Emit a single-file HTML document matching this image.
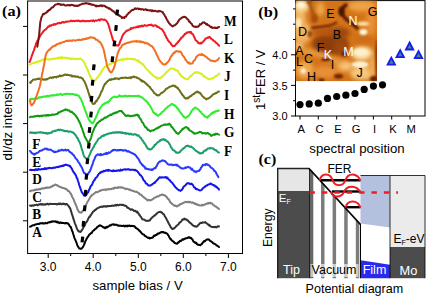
<!DOCTYPE html>
<html><head><meta charset="utf-8"><title>Figure</title>
<style>
html,body{margin:0;padding:0;background:#fff;}
body{width:427px;height:296px;overflow:hidden;font-family:"Liberation Sans",sans-serif;}
svg{display:block;}
svg text{font-family:"Liberation Sans",sans-serif;}
svg .sf, svg .sf text{font-family:"Liberation Serif",serif;font-weight:bold;}
</style></head>
<body>
<svg width="427" height="296" viewBox="0 0 427 296">
<rect width="427" height="296" fill="#fff"/>
<rect x="27.6" y="1.0" width="214.9" height="252.5" fill="#fff" stroke="#000" stroke-width="1"/>
<line x1="23" x2="27.6" y1="26.4" y2="26.4" stroke="#000" stroke-width="1"/>
<line x1="23" x2="27.6" y1="75" y2="75" stroke="#000" stroke-width="1"/>
<line x1="23" x2="27.6" y1="123.6" y2="123.6" stroke="#000" stroke-width="1"/>
<line x1="23" x2="27.6" y1="172.2" y2="172.2" stroke="#000" stroke-width="1"/>
<line x1="23" x2="27.6" y1="220.8" y2="220.8" stroke="#000" stroke-width="1"/>
<line x1="48.2" x2="48.2" y1="253.5" y2="258.0" stroke="#000" stroke-width="1"/>
<text x="48.2" y="270.9" font-size="12" text-anchor="middle">3.0</text>
<line x1="93.2" x2="93.2" y1="253.5" y2="258.0" stroke="#000" stroke-width="1"/>
<text x="93.2" y="270.9" font-size="12" text-anchor="middle">4.0</text>
<line x1="138.3" x2="138.3" y1="253.5" y2="258.0" stroke="#000" stroke-width="1"/>
<text x="138.3" y="270.9" font-size="12" text-anchor="middle">5.0</text>
<line x1="183.3" x2="183.3" y1="253.5" y2="258.0" stroke="#000" stroke-width="1"/>
<text x="183.3" y="270.9" font-size="12" text-anchor="middle">6.0</text>
<line x1="228.4" x2="228.4" y1="253.5" y2="258.0" stroke="#000" stroke-width="1"/>
<text x="228.4" y="270.9" font-size="12" text-anchor="middle">7.0</text>
<line x1="70.7" x2="70.7" y1="253.5" y2="256.0" stroke="#000" stroke-width="1"/>
<line x1="115.8" x2="115.8" y1="253.5" y2="256.0" stroke="#000" stroke-width="1"/>
<line x1="160.8" x2="160.8" y1="253.5" y2="256.0" stroke="#000" stroke-width="1"/>
<line x1="205.9" x2="205.9" y1="253.5" y2="256.0" stroke="#000" stroke-width="1"/>
<text x="137.6" y="289.5" font-size="13.2" text-anchor="middle">sample bias / V</text>
<text transform="translate(11.8,120.2) rotate(-90)" font-size="13.2" text-anchor="middle">dI/dz intensity</text>
<text transform="translate(2,16.3) scale(1.05,1)" class="sf" font-size="15.5">(a)</text>
<g fill="none" stroke-width="2" stroke-linejoin="round" stroke-linecap="round">
<path d="M30.0,226.8 L30.6,226.6 L31.2,226.2 L31.8,225.7 L32.4,225.6 L33.0,225.2 L33.6,225.2 L34.2,225.3 L34.8,224.6 L35.4,224.4 L36.0,224.5 L36.6,224.3 L37.2,224.1 L37.8,223.8 L38.4,223.9 L39.0,224.1 L39.6,223.4 L40.2,223.6 L40.8,223.2 L41.4,223.3 L42.0,223.1 L42.6,223.6 L43.2,223.2 L43.8,223.6 L44.4,223.6 L45.0,223.4 L45.6,222.7 L46.2,223.2 L46.8,223.3 L47.4,223.2 L48.0,222.5 L48.6,222.6 L49.2,222.2 L49.8,222.0 L50.4,222.3 L51.0,221.6 L51.6,221.6 L52.2,221.7 L52.8,221.2 L53.4,221.4 L54.0,221.5 L54.6,221.5 L55.2,221.3 L55.8,221.7 L56.4,222.2 L57.0,221.5 L57.6,222.4 L58.2,222.3 L58.8,222.2 L59.4,223.1 L60.0,222.8 L60.6,222.4 L61.2,222.8 L61.8,223.0 L62.4,222.8 L63.0,223.1 L63.6,222.9 L64.2,223.2 L64.8,223.4 L65.4,222.9 L66.0,223.2 L66.6,223.1 L67.2,223.4 L67.8,223.3 L68.4,223.9 L69.0,224.7 L69.6,225.8 L70.2,226.7 L70.8,227.0 L71.4,228.6 L72.0,230.8 L72.6,231.8 L73.2,234.0 L73.8,235.8 L74.4,237.8 L75.0,239.2 L75.6,240.5 L76.2,242.0 L76.8,243.5 L77.4,245.5 L78.0,246.3 L78.6,247.5 L79.2,248.3 L79.8,248.5 L80.4,248.8 L81.0,248.7 L81.6,248.7 L82.2,247.9 L82.8,247.3 L83.4,246.2 L84.0,244.8 L84.6,243.5 L85.2,241.6 L85.8,240.6 L86.4,239.2 L87.0,238.4 L87.6,237.0 L88.2,236.6 L88.8,235.3 L89.4,234.5 L90.0,234.3 L90.6,233.4 L91.2,233.1 L91.8,233.0 L92.4,231.5 L93.0,230.9 L93.6,230.6 L94.2,230.1 L94.8,229.3 L95.4,228.8 L96.0,228.6 L96.6,228.0 L97.2,227.0 L97.8,226.8 L98.4,226.3 L99.0,225.6 L99.6,225.7 L100.2,225.3 L100.8,225.8 L101.4,225.9 L102.0,226.4 L102.6,226.7 L103.2,227.4 L103.8,227.2 L104.4,227.7 L105.0,228.1 L105.6,227.2 L106.2,227.8 L106.8,226.8 L107.4,227.3 L108.0,226.5 L108.6,226.6 L109.2,226.1 L109.8,225.2 L110.4,225.6 L111.0,225.3 L111.6,224.6 L112.2,224.4 L112.8,224.5 L113.4,224.3 L114.0,224.9 L114.6,224.5 L115.2,224.8 L115.8,224.7 L116.4,224.8 L117.0,224.8 L117.6,225.6 L118.2,225.4 L118.8,225.8 L119.4,225.7 L120.0,225.6 L120.6,225.8 L121.2,225.8 L121.8,226.0 L122.4,225.9 L123.0,225.9 L123.6,225.6 L124.2,225.8 L124.8,226.5 L125.4,225.8 L126.0,225.7 L126.6,226.1 L127.2,226.4 L127.8,225.6 L128.4,225.9 L129.0,225.8 L129.6,225.5 L130.2,226.2 L130.8,226.0 L131.4,226.0 L132.0,225.8 L132.6,226.1 L133.2,225.9 L133.8,226.3 L134.4,226.3 L135.0,226.7 L135.6,227.9 L136.2,227.8 L136.8,228.5 L137.4,228.9 L138.0,229.3 L138.6,229.8 L139.2,230.6 L139.8,231.0 L140.4,231.7 L141.0,232.3 L141.6,233.3 L142.2,233.7 L142.8,234.2 L143.4,234.4 L144.0,234.6 L144.6,235.7 L145.2,236.1 L145.8,236.2 L146.4,236.8 L147.0,237.2 L147.6,237.5 L148.2,237.9 L148.8,237.7 L149.4,238.4 L150.0,237.7 L150.6,238.2 L151.2,237.9 L151.8,237.8 L152.4,237.7 L153.0,237.3 L153.6,236.1 L154.2,235.6 L154.8,235.9 L155.4,235.0 L156.0,235.0 L156.6,234.9 L157.2,233.9 L157.8,233.5 L158.4,233.8 L159.0,233.4 L159.6,233.0 L160.2,232.8 L160.8,232.4 L161.4,232.0 L162.0,232.3 L162.6,232.0 L163.2,231.9 L163.8,232.6 L164.4,232.6 L165.0,233.0 L165.6,232.8 L166.2,233.2 L166.8,233.4 L167.4,234.0 L168.0,235.0 L168.6,235.6 L169.2,236.9 L169.8,237.9 L170.4,239.2 L171.0,239.1 L171.6,240.3 L172.2,240.6 L172.8,241.2 L173.4,241.4 L174.0,242.2 L174.6,243.0 L175.2,243.1 L175.8,243.4 L176.4,243.4 L177.0,243.8 L177.6,243.3 L178.2,242.3 L178.8,242.4 L179.4,241.6 L180.0,240.7 L180.6,241.0 L181.2,241.0 L181.8,240.2 L182.4,239.5 L183.0,239.2 L183.6,239.6 L184.2,239.0 L184.8,238.8 L185.4,238.5 L186.0,238.3 L186.6,238.3 L187.2,238.0 L187.8,237.8 L188.4,237.3 L189.0,237.7 L189.6,237.3 L190.2,238.0 L190.8,237.7 L191.4,238.5 L192.0,239.2 L192.6,239.6 L193.2,241.1 L193.8,241.8 L194.4,241.9 L195.0,242.7 L195.6,243.1 L196.2,242.7 L196.8,244.0 L197.4,244.3 L198.0,244.8 L198.6,244.7 L199.2,245.1 L199.8,245.1 L200.4,245.2 L201.0,244.6 L201.6,243.9 L202.2,243.7 L202.8,242.5 L203.4,241.9 L204.0,241.0 L204.6,241.5 L205.2,240.8 L205.8,240.3 L206.4,239.8 L207.0,239.4 L207.6,239.4 L208.2,239.3 L208.8,239.6 L209.4,240.1 L210.0,240.9 L210.6,241.1 L211.2,241.5 L211.8,241.8 L212.4,242.3 L213.0,243.3 L213.6,243.4 L214.2,243.7 L214.8,244.0 L215.4,244.2 L216.0,244.9 L216.6,245.5 L217.2,245.6 L217.8,246.1 L218.4,246.5 L219.0,247.0" stroke="#000000"/>
<path d="M30.0,205.6 L30.6,205.8 L31.2,205.5 L31.8,205.9 L32.4,205.3 L33.0,205.6 L33.6,205.7 L34.2,205.1 L34.8,204.9 L35.4,205.1 L36.0,204.9 L36.6,204.6 L37.2,204.9 L37.8,205.3 L38.4,204.6 L39.0,204.5 L39.6,204.2 L40.2,204.6 L40.8,204.1 L41.4,204.1 L42.0,204.7 L42.6,204.1 L43.2,204.6 L43.8,204.7 L44.4,204.3 L45.0,204.4 L45.6,204.7 L46.2,204.1 L46.8,204.0 L47.4,203.7 L48.0,204.1 L48.6,204.5 L49.2,204.3 L49.8,203.8 L50.4,203.8 L51.0,203.9 L51.6,204.1 L52.2,203.9 L52.8,204.1 L53.4,204.1 L54.0,203.9 L54.6,204.0 L55.2,204.1 L55.8,204.0 L56.4,204.1 L57.0,204.5 L57.6,204.2 L58.2,204.0 L58.8,203.5 L59.4,204.1 L60.0,203.5 L60.6,203.6 L61.2,204.2 L61.8,204.2 L62.4,204.0 L63.0,203.5 L63.6,203.9 L64.2,203.8 L64.8,204.2 L65.4,204.6 L66.0,204.1 L66.6,204.0 L67.2,204.3 L67.8,205.2 L68.4,205.9 L69.0,206.5 L69.6,207.7 L70.2,208.3 L70.8,210.4 L71.4,212.3 L72.0,214.4 L72.6,216.0 L73.2,218.2 L73.8,219.9 L74.4,221.8 L75.0,223.6 L75.6,224.9 L76.2,226.4 L76.8,228.5 L77.4,229.5 L78.0,230.6 L78.6,231.5 L79.2,231.2 L79.8,231.8 L80.4,231.9 L81.0,231.5 L81.6,230.4 L82.2,229.8 L82.8,228.7 L83.4,227.4 L84.0,226.3 L84.6,225.7 L85.2,224.4 L85.8,222.6 L86.4,222.4 L87.0,221.2 L87.6,220.3 L88.2,218.8 L88.8,217.8 L89.4,216.6 L90.0,216.7 L90.6,215.1 L91.2,214.8 L91.8,213.4 L92.4,212.9 L93.0,211.6 L93.6,211.3 L94.2,211.1 L94.8,209.9 L95.4,210.1 L96.0,209.5 L96.6,208.7 L97.2,208.5 L97.8,208.1 L98.4,207.9 L99.0,207.5 L99.6,207.2 L100.2,207.1 L100.8,206.8 L101.4,206.6 L102.0,206.8 L102.6,207.0 L103.2,206.2 L103.8,206.6 L104.4,206.3 L105.0,206.2 L105.6,206.6 L106.2,206.2 L106.8,206.7 L107.4,206.0 L108.0,206.3 L108.6,206.1 L109.2,205.9 L109.8,206.2 L110.4,205.9 L111.0,206.1 L111.6,205.8 L112.2,205.5 L112.8,205.7 L113.4,205.7 L114.0,205.9 L114.6,205.3 L115.2,205.4 L115.8,204.9 L116.4,205.5 L117.0,205.0 L117.6,204.7 L118.2,205.2 L118.8,205.4 L119.4,204.7 L120.0,204.8 L120.6,204.8 L121.2,204.7 L121.8,205.1 L122.4,204.8 L123.0,204.8 L123.6,205.3 L124.2,205.2 L124.8,205.8 L125.4,205.7 L126.0,206.0 L126.6,206.3 L127.2,207.7 L127.8,207.5 L128.4,208.1 L129.0,208.4 L129.6,208.8 L130.2,209.1 L130.8,209.9 L131.4,209.3 L132.0,209.4 L132.6,209.8 L133.2,210.0 L133.8,210.8 L134.4,211.0 L135.0,210.8 L135.6,211.0 L136.2,211.6 L136.8,212.4 L137.4,211.6 L138.0,213.1 L138.6,213.4 L139.2,214.8 L139.8,215.2 L140.4,216.4 L141.0,216.9 L141.6,217.9 L142.2,219.2 L142.8,219.4 L143.4,219.4 L144.0,219.6 L144.6,219.7 L145.2,220.4 L145.8,220.7 L146.4,220.8 L147.0,220.9 L147.6,220.7 L148.2,220.9 L148.8,220.6 L149.4,220.6 L150.0,220.3 L150.6,219.2 L151.2,218.4 L151.8,218.0 L152.4,217.2 L153.0,216.6 L153.6,216.3 L154.2,215.6 L154.8,215.5 L155.4,214.8 L156.0,214.4 L156.6,213.8 L157.2,213.1 L157.8,212.6 L158.4,212.4 L159.0,212.0 L159.6,212.1 L160.2,212.0 L160.8,211.8 L161.4,212.5 L162.0,212.6 L162.6,213.4 L163.2,214.1 L163.8,214.2 L164.4,215.5 L165.0,216.4 L165.6,217.4 L166.2,218.4 L166.8,219.7 L167.4,220.7 L168.0,222.1 L168.6,223.2 L169.2,224.4 L169.8,225.1 L170.4,226.6 L171.0,227.7 L171.6,228.4 L172.2,228.8 L172.8,229.1 L173.4,228.3 L174.0,228.5 L174.6,228.0 L175.2,227.4 L175.8,226.8 L176.4,225.9 L177.0,225.4 L177.6,225.1 L178.2,224.5 L178.8,223.8 L179.4,222.6 L180.0,222.5 L180.6,222.0 L181.2,221.3 L181.8,220.5 L182.4,219.5 L183.0,219.8 L183.6,219.3 L184.2,218.6 L184.8,219.5 L185.4,219.1 L186.0,219.3 L186.6,219.7 L187.2,220.5 L187.8,220.3 L188.4,221.0 L189.0,221.9 L189.6,222.5 L190.2,222.8 L190.8,223.4 L191.4,223.8 L192.0,224.5 L192.6,225.2 L193.2,225.5 L193.8,225.8 L194.4,226.4 L195.0,226.1 L195.6,226.5 L196.2,226.7 L196.8,226.5 L197.4,226.2 L198.0,225.5 L198.6,224.7 L199.2,224.3 L199.8,223.4 L200.4,222.8 L201.0,223.1 L201.6,222.8 L202.2,222.9 L202.8,222.3 L203.4,222.6 L204.0,222.5 L204.6,222.5 L205.2,222.1 L205.8,222.6 L206.4,223.2 L207.0,223.6 L207.6,223.9 L208.2,224.6 L208.8,225.4 L209.4,224.9 L210.0,226.0 L210.6,226.3 L211.2,226.6 L211.8,227.0 L212.4,227.0 L213.0,226.9 L213.6,227.0 L214.2,227.2 L214.8,226.8 L215.4,227.0 L216.0,227.2 L216.6,227.4 L217.2,226.6 L217.8,226.5 L218.4,226.3 L219.0,226.4" stroke="#333333"/>
<path d="M30.0,191.0 L30.6,191.3 L31.2,190.5 L31.8,190.6 L32.4,190.5 L33.0,190.6 L33.6,190.6 L34.2,189.7 L34.8,189.8 L35.4,190.0 L36.0,189.6 L36.6,189.3 L37.2,189.9 L37.8,189.6 L38.4,189.5 L39.0,189.1 L39.6,189.4 L40.2,188.9 L40.8,189.2 L41.4,188.5 L42.0,188.4 L42.6,188.6 L43.2,188.2 L43.8,188.5 L44.4,188.3 L45.0,187.8 L45.6,188.0 L46.2,187.7 L46.8,188.0 L47.4,187.4 L48.0,187.3 L48.6,187.7 L49.2,187.8 L49.8,187.6 L50.4,186.9 L51.0,186.7 L51.6,186.9 L52.2,186.1 L52.8,185.6 L53.4,185.7 L54.0,185.5 L54.6,185.0 L55.2,184.6 L55.8,184.6 L56.4,185.2 L57.0,185.0 L57.6,185.5 L58.2,186.0 L58.8,186.5 L59.4,186.6 L60.0,187.1 L60.6,187.0 L61.2,187.3 L61.8,187.4 L62.4,188.1 L63.0,188.0 L63.6,188.0 L64.2,188.3 L64.8,188.6 L65.4,189.1 L66.0,188.7 L66.6,189.2 L67.2,189.7 L67.8,190.9 L68.4,190.9 L69.0,191.1 L69.6,191.9 L70.2,193.2 L70.8,193.6 L71.4,194.7 L72.0,196.4 L72.6,197.4 L73.2,198.7 L73.8,199.7 L74.4,201.7 L75.0,203.0 L75.6,204.2 L76.2,205.9 L76.8,207.0 L77.4,209.3 L78.0,210.1 L78.6,211.2 L79.2,212.1 L79.8,212.4 L80.4,212.3 L81.0,212.8 L81.6,212.2 L82.2,211.7 L82.8,211.0 L83.4,210.3 L84.0,208.7 L84.6,208.2 L85.2,206.3 L85.8,205.1 L86.4,204.2 L87.0,202.9 L87.6,201.6 L88.2,200.9 L88.8,199.7 L89.4,198.7 L90.0,197.7 L90.6,196.3 L91.2,196.3 L91.8,195.1 L92.4,195.1 L93.0,194.4 L93.6,193.9 L94.2,193.5 L94.8,193.0 L95.4,192.6 L96.0,192.0 L96.6,192.1 L97.2,192.3 L97.8,192.1 L98.4,191.7 L99.0,191.2 L99.6,190.6 L100.2,191.0 L100.8,190.4 L101.4,190.2 L102.0,190.0 L102.6,190.0 L103.2,189.7 L103.8,189.7 L104.4,189.4 L105.0,189.5 L105.6,190.2 L106.2,189.4 L106.8,189.3 L107.4,189.5 L108.0,189.5 L108.6,188.9 L109.2,189.1 L109.8,189.3 L110.4,189.0 L111.0,188.9 L111.6,189.2 L112.2,188.4 L112.8,188.5 L113.4,188.2 L114.0,188.6 L114.6,187.5 L115.2,187.8 L115.8,187.7 L116.4,187.9 L117.0,187.8 L117.6,188.0 L118.2,187.1 L118.8,187.7 L119.4,187.4 L120.0,187.3 L120.6,187.7 L121.2,187.4 L121.8,187.2 L122.4,187.8 L123.0,187.6 L123.6,188.0 L124.2,188.4 L124.8,188.5 L125.4,189.1 L126.0,188.7 L126.6,188.6 L127.2,189.0 L127.8,189.1 L128.4,189.2 L129.0,189.8 L129.6,189.7 L130.2,189.5 L130.8,190.4 L131.4,190.4 L132.0,190.6 L132.6,190.7 L133.2,191.1 L133.8,191.1 L134.4,191.6 L135.0,191.6 L135.6,191.8 L136.2,192.0 L136.8,191.8 L137.4,192.4 L138.0,192.7 L138.6,193.2 L139.2,193.2 L139.8,194.5 L140.4,194.6 L141.0,194.7 L141.6,195.1 L142.2,196.0 L142.8,196.6 L143.4,196.9 L144.0,197.5 L144.6,197.8 L145.2,198.5 L145.8,198.6 L146.4,199.2 L147.0,199.9 L147.6,200.6 L148.2,199.8 L148.8,200.0 L149.4,200.0 L150.0,200.5 L150.6,199.9 L151.2,200.0 L151.8,199.9 L152.4,199.3 L153.0,198.9 L153.6,198.7 L154.2,197.8 L154.8,197.6 L155.4,197.5 L156.0,197.3 L156.6,196.9 L157.2,196.2 L157.8,196.3 L158.4,196.4 L159.0,196.1 L159.6,195.6 L160.2,195.1 L160.8,195.3 L161.4,194.8 L162.0,194.5 L162.6,194.5 L163.2,195.1 L163.8,194.9 L164.4,195.4 L165.0,195.3 L165.6,196.3 L166.2,196.4 L166.8,197.2 L167.4,198.5 L168.0,198.7 L168.6,199.1 L169.2,200.2 L169.8,201.3 L170.4,202.5 L171.0,202.8 L171.6,203.2 L172.2,204.1 L172.8,204.5 L173.4,204.9 L174.0,205.6 L174.6,205.6 L175.2,206.0 L175.8,205.6 L176.4,206.2 L177.0,206.5 L177.6,206.0 L178.2,205.6 L178.8,205.2 L179.4,205.4 L180.0,204.2 L180.6,204.1 L181.2,204.0 L181.8,203.8 L182.4,203.2 L183.0,203.1 L183.6,202.7 L184.2,202.5 L184.8,202.2 L185.4,201.8 L186.0,202.1 L186.6,202.3 L187.2,201.8 L187.8,202.0 L188.4,202.3 L189.0,201.8 L189.6,202.2 L190.2,201.8 L190.8,202.4 L191.4,202.7 L192.0,202.8 L192.6,202.3 L193.2,202.9 L193.8,203.0 L194.4,203.3 L195.0,204.0 L195.6,203.5 L196.2,204.4 L196.8,204.3 L197.4,204.9 L198.0,204.8 L198.6,204.8 L199.2,205.3 L199.8,205.6 L200.4,205.5 L201.0,205.6 L201.6,205.3 L202.2,204.7 L202.8,205.4 L203.4,205.2 L204.0,204.8 L204.6,204.5 L205.2,204.5 L205.8,203.9 L206.4,203.7 L207.0,203.6 L207.6,203.8 L208.2,202.9 L208.8,203.5 L209.4,202.9 L210.0,202.7 L210.6,203.4 L211.2,203.3 L211.8,203.2 L212.4,203.9 L213.0,204.7 L213.6,205.3 L214.2,205.3 L214.8,206.0 L215.4,206.5 L216.0,206.5 L216.6,207.2 L217.2,207.6 L217.8,207.9 L218.4,208.4 L219.0,209.0" stroke="#808080"/>
<path d="M30.0,170.0 L30.6,169.8 L31.2,169.8 L31.8,170.2 L32.4,169.9 L33.0,170.1 L33.6,170.1 L34.2,169.9 L34.8,170.3 L35.4,169.4 L36.0,169.8 L36.6,169.4 L37.2,170.0 L37.8,169.9 L38.4,168.8 L39.0,169.1 L39.6,169.5 L40.2,169.4 L40.8,169.4 L41.4,169.1 L42.0,169.2 L42.6,169.2 L43.2,168.9 L43.8,169.2 L44.4,168.2 L45.0,168.9 L45.6,168.4 L46.2,168.9 L46.8,168.5 L47.4,168.2 L48.0,168.5 L48.6,168.1 L49.2,168.0 L49.8,167.8 L50.4,168.1 L51.0,168.2 L51.6,168.3 L52.2,167.9 L52.8,168.1 L53.4,167.7 L54.0,167.6 L54.6,167.7 L55.2,167.8 L55.8,167.3 L56.4,167.2 L57.0,167.1 L57.6,167.1 L58.2,166.7 L58.8,167.1 L59.4,166.5 L60.0,166.6 L60.6,166.1 L61.2,166.2 L61.8,166.0 L62.4,165.5 L63.0,166.0 L63.6,165.3 L64.2,165.5 L64.8,165.2 L65.4,164.6 L66.0,164.7 L66.6,165.0 L67.2,165.1 L67.8,165.3 L68.4,165.5 L69.0,165.4 L69.6,166.2 L70.2,166.0 L70.8,167.4 L71.4,168.0 L72.0,169.0 L72.6,170.3 L73.2,171.6 L73.8,172.3 L74.4,173.1 L75.0,174.2 L75.6,174.9 L76.2,176.2 L76.8,178.0 L77.4,178.7 L78.0,181.0 L78.6,182.5 L79.2,185.0 L79.8,186.6 L80.4,188.3 L81.0,190.0 L81.6,191.8 L82.2,192.6 L82.8,193.6 L83.4,194.2 L84.0,195.5 L84.6,195.7 L85.2,195.9 L85.8,195.2 L86.4,195.0 L87.0,193.2 L87.6,192.8 L88.2,192.2 L88.8,190.7 L89.4,189.2 L90.0,188.0 L90.6,186.4 L91.2,185.6 L91.8,185.2 L92.4,183.8 L93.0,182.1 L93.6,181.2 L94.2,180.3 L94.8,179.8 L95.4,178.4 L96.0,177.6 L96.6,177.3 L97.2,176.5 L97.8,175.4 L98.4,174.5 L99.0,173.7 L99.6,173.4 L100.2,172.4 L100.8,172.7 L101.4,171.8 L102.0,171.7 L102.6,171.9 L103.2,171.5 L103.8,170.7 L104.4,171.2 L105.0,171.1 L105.6,170.5 L106.2,170.3 L106.8,170.5 L107.4,170.1 L108.0,170.9 L108.6,169.8 L109.2,170.2 L109.8,170.5 L110.4,170.6 L111.0,170.8 L111.6,170.9 L112.2,170.8 L112.8,171.3 L113.4,170.4 L114.0,171.0 L114.6,170.8 L115.2,171.0 L115.8,171.0 L116.4,170.6 L117.0,170.5 L117.6,170.8 L118.2,170.6 L118.8,170.2 L119.4,170.8 L120.0,170.8 L120.6,169.6 L121.2,170.0 L121.8,170.5 L122.4,169.9 L123.0,169.7 L123.6,169.5 L124.2,169.4 L124.8,169.4 L125.4,169.3 L126.0,169.7 L126.6,169.4 L127.2,169.4 L127.8,169.2 L128.4,169.5 L129.0,169.3 L129.6,169.6 L130.2,169.9 L130.8,169.8 L131.4,169.8 L132.0,169.8 L132.6,169.8 L133.2,169.8 L133.8,169.8 L134.4,170.2 L135.0,169.7 L135.6,170.5 L136.2,170.5 L136.8,170.7 L137.4,171.4 L138.0,172.0 L138.6,173.0 L139.2,173.5 L139.8,174.8 L140.4,175.1 L141.0,175.4 L141.6,176.6 L142.2,177.0 L142.8,178.5 L143.4,179.8 L144.0,180.6 L144.6,180.9 L145.2,181.9 L145.8,183.4 L146.4,183.5 L147.0,183.9 L147.6,184.6 L148.2,185.4 L148.8,185.4 L149.4,185.4 L150.0,185.5 L150.6,185.5 L151.2,184.9 L151.8,184.5 L152.4,184.4 L153.0,183.6 L153.6,183.3 L154.2,182.8 L154.8,182.9 L155.4,181.6 L156.0,181.3 L156.6,180.6 L157.2,180.1 L157.8,179.6 L158.4,178.6 L159.0,177.9 L159.6,177.3 L160.2,177.3 L160.8,177.7 L161.4,177.5 L162.0,177.2 L162.6,177.4 L163.2,177.5 L163.8,177.6 L164.4,177.3 L165.0,177.4 L165.6,177.0 L166.2,177.2 L166.8,178.2 L167.4,177.5 L168.0,178.5 L168.6,179.3 L169.2,179.7 L169.8,180.3 L170.4,181.2 L171.0,181.8 L171.6,182.4 L172.2,182.6 L172.8,183.8 L173.4,184.4 L174.0,185.2 L174.6,186.2 L175.2,187.0 L175.8,187.7 L176.4,187.9 L177.0,188.8 L177.6,189.3 L178.2,189.8 L178.8,190.3 L179.4,190.3 L180.0,190.5 L180.6,190.9 L181.2,190.2 L181.8,190.1 L182.4,189.0 L183.0,188.1 L183.6,186.7 L184.2,186.2 L184.8,185.8 L185.4,185.3 L186.0,184.7 L186.6,183.8 L187.2,183.4 L187.8,183.1 L188.4,183.4 L189.0,183.3 L189.6,183.7 L190.2,184.2 L190.8,183.8 L191.4,183.6 L192.0,184.2 L192.6,184.6 L193.2,185.5 L193.8,187.0 L194.4,187.5 L195.0,187.6 L195.6,188.7 L196.2,189.2 L196.8,189.1 L197.4,189.2 L198.0,189.6 L198.6,189.9 L199.2,190.2 L199.8,190.4 L200.4,190.4 L201.0,190.2 L201.6,189.9 L202.2,189.3 L202.8,188.1 L203.4,187.9 L204.0,187.5 L204.6,186.8 L205.2,186.7 L205.8,185.9 L206.4,185.4 L207.0,185.6 L207.6,185.0 L208.2,184.5 L208.8,184.5 L209.4,184.3 L210.0,184.1 L210.6,183.4 L211.2,184.0 L211.8,184.3 L212.4,184.4 L213.0,184.9 L213.6,185.5 L214.2,185.3 L214.8,185.4 L215.4,186.7 L216.0,186.5 L216.6,186.7 L217.2,187.7 L217.8,188.3 L218.4,188.5 L219.0,189.6" stroke="#1414ee"/>
<path d="M30.0,150.9 L30.6,151.5 L31.2,152.4 L31.8,153.2 L32.4,153.2 L33.0,153.9 L33.6,153.9 L34.2,154.8 L34.8,153.7 L35.4,154.1 L36.0,153.4 L36.6,153.0 L37.2,152.9 L37.8,152.6 L38.4,152.3 L39.0,151.6 L39.6,151.0 L40.2,150.8 L40.8,150.8 L41.4,150.5 L42.0,150.4 L42.6,149.8 L43.2,149.7 L43.8,149.6 L44.4,149.1 L45.0,148.6 L45.6,148.7 L46.2,148.6 L46.8,149.5 L47.4,148.9 L48.0,149.5 L48.6,149.4 L49.2,149.9 L49.8,149.7 L50.4,149.6 L51.0,149.8 L51.6,150.3 L52.2,150.7 L52.8,150.9 L53.4,151.4 L54.0,152.2 L54.6,151.5 L55.2,152.1 L55.8,151.7 L56.4,151.8 L57.0,151.8 L57.6,151.3 L58.2,151.2 L58.8,150.4 L59.4,150.9 L60.0,150.3 L60.6,150.6 L61.2,150.4 L61.8,149.6 L62.4,150.0 L63.0,150.2 L63.6,150.6 L64.2,150.2 L64.8,150.1 L65.4,149.6 L66.0,150.4 L66.6,150.5 L67.2,150.0 L67.8,150.1 L68.4,149.9 L69.0,151.0 L69.6,152.0 L70.2,152.0 L70.8,152.7 L71.4,153.1 L72.0,153.3 L72.6,154.6 L73.2,154.5 L73.8,155.4 L74.4,156.3 L75.0,157.3 L75.6,158.1 L76.2,158.9 L76.8,159.5 L77.4,160.2 L78.0,161.5 L78.6,162.3 L79.2,163.1 L79.8,164.1 L80.4,165.3 L81.0,166.0 L81.6,167.2 L82.2,168.3 L82.8,170.2 L83.4,171.5 L84.0,173.0 L84.6,172.9 L85.2,173.6 L85.8,174.5 L86.4,174.4 L87.0,174.3 L87.6,174.6 L88.2,173.5 L88.8,172.7 L89.4,171.9 L90.0,171.1 L90.6,169.7 L91.2,167.7 L91.8,166.1 L92.4,164.7 L93.0,162.8 L93.6,160.8 L94.2,159.7 L94.8,158.4 L95.4,156.5 L96.0,155.8 L96.6,155.3 L97.2,154.8 L97.8,154.3 L98.4,154.7 L99.0,154.9 L99.6,155.1 L100.2,154.0 L100.8,155.3 L101.4,154.2 L102.0,154.7 L102.6,154.7 L103.2,154.6 L103.8,154.2 L104.4,153.7 L105.0,154.0 L105.6,153.5 L106.2,152.8 L106.8,154.1 L107.4,153.3 L108.0,153.4 L108.6,152.4 L109.2,152.8 L109.8,152.7 L110.4,152.4 L111.0,151.7 L111.6,151.0 L112.2,151.0 L112.8,150.1 L113.4,150.0 L114.0,150.3 L114.6,149.8 L115.2,150.0 L115.8,150.0 L116.4,150.5 L117.0,150.4 L117.6,150.0 L118.2,150.4 L118.8,149.9 L119.4,150.0 L120.0,150.4 L120.6,149.8 L121.2,150.1 L121.8,149.9 L122.4,150.3 L123.0,150.8 L123.6,150.2 L124.2,150.5 L124.8,150.2 L125.4,150.2 L126.0,150.3 L126.6,151.2 L127.2,151.6 L127.8,151.2 L128.4,151.1 L129.0,151.8 L129.6,151.7 L130.2,152.3 L130.8,152.5 L131.4,152.8 L132.0,153.2 L132.6,153.3 L133.2,153.7 L133.8,153.7 L134.4,154.5 L135.0,154.6 L135.6,155.4 L136.2,155.8 L136.8,156.9 L137.4,157.8 L138.0,158.1 L138.6,159.2 L139.2,160.1 L139.8,161.5 L140.4,162.7 L141.0,163.4 L141.6,163.8 L142.2,165.1 L142.8,164.9 L143.4,166.4 L144.0,166.4 L144.6,166.5 L145.2,168.6 L145.8,168.8 L146.4,168.4 L147.0,169.0 L147.6,169.1 L148.2,169.4 L148.8,169.1 L149.4,169.4 L150.0,169.7 L150.6,169.6 L151.2,169.9 L151.8,169.4 L152.4,170.0 L153.0,168.9 L153.6,169.0 L154.2,168.2 L154.8,168.1 L155.4,168.3 L156.0,166.8 L156.6,166.2 L157.2,165.0 L157.8,163.7 L158.4,162.9 L159.0,162.1 L159.6,161.6 L160.2,161.7 L160.8,161.4 L161.4,160.8 L162.0,160.5 L162.6,160.7 L163.2,160.4 L163.8,160.7 L164.4,161.2 L165.0,161.1 L165.6,161.5 L166.2,162.4 L166.8,163.0 L167.4,163.8 L168.0,164.3 L168.6,164.6 L169.2,164.6 L169.8,164.9 L170.4,164.6 L171.0,164.6 L171.6,164.4 L172.2,165.2 L172.8,164.8 L173.4,165.2 L174.0,164.9 L174.6,165.1 L175.2,164.6 L175.8,164.9 L176.4,165.5 L177.0,164.5 L177.6,165.4 L178.2,166.0 L178.8,166.2 L179.4,166.9 L180.0,167.6 L180.6,167.6 L181.2,168.3 L181.8,168.3 L182.4,168.5 L183.0,168.5 L183.6,168.5 L184.2,168.3 L184.8,168.1 L185.4,167.3 L186.0,167.9 L186.6,167.5 L187.2,167.2 L187.8,166.8 L188.4,167.0 L189.0,167.4 L189.6,167.7 L190.2,167.5 L190.8,168.6 L191.4,169.6 L192.0,168.7 L192.6,170.0 L193.2,170.4 L193.8,170.7 L194.4,171.6 L195.0,171.2 L195.6,171.7 L196.2,172.1 L196.8,171.5 L197.4,171.2 L198.0,171.1 L198.6,170.7 L199.2,170.9 L199.8,169.7 L200.4,169.3 L201.0,167.6 L201.6,167.2 L202.2,166.1 L202.8,164.9 L203.4,165.3 L204.0,164.8 L204.6,164.7 L205.2,165.1 L205.8,164.1 L206.4,164.0 L207.0,164.7 L207.6,164.4 L208.2,165.2 L208.8,165.3 L209.4,165.5 L210.0,166.3 L210.6,167.3 L211.2,167.7 L211.8,167.9 L212.4,168.5 L213.0,169.0 L213.6,169.5 L214.2,170.9 L214.8,171.0 L215.4,171.5 L216.0,172.6 L216.6,174.0 L217.2,175.1 L217.8,176.0 L218.4,177.1" stroke="#2a3aff"/>
<path d="M30.0,132.8 L30.6,132.3 L31.2,132.4 L31.8,132.9 L32.4,132.5 L33.0,132.8 L33.6,133.0 L34.2,132.8 L34.8,132.6 L35.4,133.2 L36.0,132.8 L36.6,132.5 L37.2,132.8 L37.8,132.7 L38.4,132.4 L39.0,132.6 L39.6,132.6 L40.2,132.1 L40.8,132.6 L41.4,132.6 L42.0,132.7 L42.6,132.4 L43.2,132.8 L43.8,133.0 L44.4,133.1 L45.0,132.8 L45.6,133.4 L46.2,132.9 L46.8,133.2 L47.4,133.7 L48.0,133.1 L48.6,133.1 L49.2,133.5 L49.8,132.9 L50.4,132.7 L51.0,132.7 L51.6,132.7 L52.2,131.5 L52.8,131.7 L53.4,131.4 L54.0,131.1 L54.6,131.0 L55.2,130.8 L55.8,130.9 L56.4,130.3 L57.0,130.3 L57.6,130.2 L58.2,129.6 L58.8,129.8 L59.4,130.2 L60.0,129.8 L60.6,129.6 L61.2,129.9 L61.8,129.9 L62.4,130.4 L63.0,130.7 L63.6,130.4 L64.2,130.8 L64.8,131.3 L65.4,131.0 L66.0,131.2 L66.6,131.0 L67.2,131.1 L67.8,131.2 L68.4,132.0 L69.0,131.4 L69.6,131.4 L70.2,131.4 L70.8,131.6 L71.4,132.0 L72.0,131.9 L72.6,132.6 L73.2,132.4 L73.8,133.3 L74.4,133.7 L75.0,134.6 L75.6,135.0 L76.2,136.3 L76.8,137.3 L77.4,138.2 L78.0,138.6 L78.6,140.6 L79.2,141.4 L79.8,142.7 L80.4,144.2 L81.0,146.1 L81.6,148.5 L82.2,150.2 L82.8,152.1 L83.4,154.3 L84.0,155.9 L84.6,156.9 L85.2,157.6 L85.8,158.2 L86.4,158.8 L87.0,159.3 L87.6,158.3 L88.2,158.0 L88.8,156.6 L89.4,155.2 L90.0,154.3 L90.6,152.4 L91.2,151.1 L91.8,150.0 L92.4,149.1 L93.0,148.0 L93.6,146.9 L94.2,146.0 L94.8,144.3 L95.4,144.1 L96.0,142.6 L96.6,141.9 L97.2,141.0 L97.8,139.9 L98.4,139.0 L99.0,138.4 L99.6,138.1 L100.2,137.8 L100.8,137.4 L101.4,136.5 L102.0,136.3 L102.6,135.9 L103.2,136.0 L103.8,135.0 L104.4,135.6 L105.0,134.9 L105.6,134.5 L106.2,134.5 L106.8,134.4 L107.4,133.9 L108.0,133.8 L108.6,133.4 L109.2,133.5 L109.8,133.4 L110.4,132.9 L111.0,133.3 L111.6,132.9 L112.2,132.8 L112.8,132.5 L113.4,132.6 L114.0,132.8 L114.6,132.2 L115.2,132.7 L115.8,132.6 L116.4,132.6 L117.0,131.9 L117.6,132.5 L118.2,132.7 L118.8,132.3 L119.4,132.6 L120.0,131.9 L120.6,132.8 L121.2,132.5 L121.8,133.0 L122.4,132.3 L123.0,133.1 L123.6,133.0 L124.2,133.3 L124.8,133.0 L125.4,133.1 L126.0,134.0 L126.6,133.3 L127.2,133.4 L127.8,133.6 L128.4,133.5 L129.0,134.2 L129.6,134.4 L130.2,133.8 L130.8,133.6 L131.4,134.5 L132.0,134.5 L132.6,134.5 L133.2,134.7 L133.8,134.2 L134.4,134.4 L135.0,134.2 L135.6,134.2 L136.2,135.0 L136.8,134.7 L137.4,135.6 L138.0,135.2 L138.6,135.4 L139.2,136.3 L139.8,137.2 L140.4,137.6 L141.0,137.9 L141.6,139.2 L142.2,140.3 L142.8,140.7 L143.4,141.5 L144.0,142.8 L144.6,143.4 L145.2,144.1 L145.8,145.4 L146.4,146.3 L147.0,147.5 L147.6,148.2 L148.2,149.0 L148.8,149.2 L149.4,148.9 L150.0,149.5 L150.6,149.6 L151.2,149.2 L151.8,148.9 L152.4,147.9 L153.0,147.2 L153.6,147.1 L154.2,145.8 L154.8,144.8 L155.4,145.0 L156.0,143.9 L156.6,143.4 L157.2,142.7 L157.8,142.2 L158.4,141.8 L159.0,141.5 L159.6,141.2 L160.2,140.0 L160.8,140.5 L161.4,139.6 L162.0,139.3 L162.6,139.7 L163.2,139.4 L163.8,139.0 L164.4,140.1 L165.0,139.6 L165.6,140.2 L166.2,140.6 L166.8,141.3 L167.4,141.2 L168.0,142.1 L168.6,142.4 L169.2,143.8 L169.8,144.4 L170.4,145.6 L171.0,147.3 L171.6,147.9 L172.2,148.8 L172.8,150.0 L173.4,150.1 L174.0,150.3 L174.6,151.3 L175.2,151.2 L175.8,152.3 L176.4,152.7 L177.0,152.5 L177.6,152.7 L178.2,152.9 L178.8,152.7 L179.4,152.1 L180.0,152.1 L180.6,150.7 L181.2,150.5 L181.8,149.9 L182.4,149.3 L183.0,148.9 L183.6,148.0 L184.2,148.1 L184.8,147.4 L185.4,146.8 L186.0,146.2 L186.6,145.9 L187.2,146.1 L187.8,145.6 L188.4,146.0 L189.0,146.3 L189.6,146.5 L190.2,146.9 L190.8,146.6 L191.4,146.6 L192.0,147.5 L192.6,147.6 L193.2,148.3 L193.8,148.5 L194.4,149.4 L195.0,150.0 L195.6,150.5 L196.2,151.0 L196.8,151.3 L197.4,151.7 L198.0,152.1 L198.6,152.7 L199.2,152.6 L199.8,153.5 L200.4,153.2 L201.0,153.6 L201.6,153.2 L202.2,152.8 L202.8,153.0 L203.4,151.9 L204.0,151.0 L204.6,150.7 L205.2,150.3 L205.8,150.7 L206.4,149.7 L207.0,149.5 L207.6,148.5 L208.2,148.6 L208.8,148.4 L209.4,148.5 L210.0,147.8 L210.6,148.2 L211.2,148.3 L211.8,148.1 L212.4,148.6 L213.0,148.8 L213.6,148.5 L214.2,149.6 L214.8,149.9 L215.4,149.9 L216.0,150.0 L216.6,151.2 L217.2,151.3 L217.8,151.9 L218.4,152.5 L219.0,152.4" stroke="#1d9d6a"/>
<path d="M30.0,117.2 L30.6,116.8 L31.2,116.8 L31.8,116.7 L32.4,116.7 L33.0,116.9 L33.6,116.5 L34.2,116.4 L34.8,116.3 L35.4,116.4 L36.0,116.0 L36.6,116.0 L37.2,116.0 L37.8,115.8 L38.4,115.9 L39.0,115.7 L39.6,116.4 L40.2,116.1 L40.8,115.8 L41.4,115.6 L42.0,116.2 L42.6,115.6 L43.2,115.4 L43.8,115.5 L44.4,115.4 L45.0,115.7 L45.6,115.3 L46.2,115.8 L46.8,115.0 L47.4,115.4 L48.0,114.9 L48.6,115.6 L49.2,115.0 L49.8,115.1 L50.4,115.3 L51.0,115.3 L51.6,114.6 L52.2,114.8 L52.8,114.5 L53.4,114.8 L54.0,114.7 L54.6,114.5 L55.2,114.4 L55.8,114.3 L56.4,113.9 L57.0,113.9 L57.6,113.8 L58.2,112.5 L58.8,112.7 L59.4,112.2 L60.0,112.2 L60.6,111.5 L61.2,111.4 L61.8,110.9 L62.4,111.1 L63.0,110.6 L63.6,110.3 L64.2,110.2 L64.8,109.9 L65.4,109.3 L66.0,109.9 L66.6,109.8 L67.2,109.8 L67.8,110.3 L68.4,110.6 L69.0,110.2 L69.6,110.7 L70.2,111.7 L70.8,112.0 L71.4,111.7 L72.0,112.0 L72.6,112.6 L73.2,113.2 L73.8,113.4 L74.4,114.4 L75.0,114.7 L75.6,115.4 L76.2,116.7 L76.8,117.1 L77.4,118.2 L78.0,119.4 L78.6,120.6 L79.2,121.5 L79.8,122.8 L80.4,123.9 L81.0,126.0 L81.6,127.4 L82.2,128.6 L82.8,130.7 L83.4,132.7 L84.0,134.2 L84.6,136.1 L85.2,137.5 L85.8,138.4 L86.4,139.7 L87.0,140.4 L87.6,141.8 L88.2,142.4 L88.8,143.0 L89.4,141.6 L90.0,139.9 L90.6,139.1 L91.2,137.5 L91.8,134.9 L92.4,132.9 L93.0,131.5 L93.6,130.2 L94.2,128.7 L94.8,127.2 L95.4,126.5 L96.0,125.1 L96.6,124.2 L97.2,123.3 L97.8,122.8 L98.4,122.6 L99.0,121.4 L99.6,121.3 L100.2,121.1 L100.8,120.3 L101.4,120.1 L102.0,119.3 L102.6,119.6 L103.2,119.2 L103.8,118.6 L104.4,117.7 L105.0,117.5 L105.6,117.7 L106.2,117.6 L106.8,116.9 L107.4,116.8 L108.0,116.0 L108.6,115.8 L109.2,115.6 L109.8,115.4 L110.4,114.6 L111.0,115.0 L111.6,114.9 L112.2,113.9 L112.8,113.6 L113.4,113.8 L114.0,113.3 L114.6,112.6 L115.2,113.2 L115.8,112.7 L116.4,112.3 L117.0,112.7 L117.6,111.9 L118.2,111.4 L118.8,111.4 L119.4,110.9 L120.0,110.9 L120.6,111.1 L121.2,110.9 L121.8,111.2 L122.4,112.3 L123.0,112.8 L123.6,113.5 L124.2,114.2 L124.8,114.9 L125.4,115.7 L126.0,115.5 L126.6,116.1 L127.2,115.4 L127.8,115.7 L128.4,115.4 L129.0,115.8 L129.6,116.0 L130.2,116.3 L130.8,115.8 L131.4,116.0 L132.0,115.9 L132.6,115.8 L133.2,115.6 L133.8,115.8 L134.4,115.2 L135.0,115.5 L135.6,115.3 L136.2,115.0 L136.8,114.8 L137.4,114.6 L138.0,115.7 L138.6,115.4 L139.2,117.2 L139.8,118.1 L140.4,118.9 L141.0,119.7 L141.6,121.2 L142.2,122.4 L142.8,122.6 L143.4,123.7 L144.0,125.1 L144.6,125.8 L145.2,127.1 L145.8,127.1 L146.4,128.1 L147.0,128.3 L147.6,129.9 L148.2,129.7 L148.8,129.8 L149.4,130.7 L150.0,130.9 L150.6,131.4 L151.2,130.7 L151.8,130.6 L152.4,130.6 L153.0,130.6 L153.6,129.9 L154.2,129.9 L154.8,129.5 L155.4,129.0 L156.0,128.8 L156.6,128.5 L157.2,128.0 L157.8,128.3 L158.4,127.2 L159.0,127.6 L159.6,127.1 L160.2,126.5 L160.8,125.9 L161.4,125.7 L162.0,125.6 L162.6,125.4 L163.2,125.1 L163.8,125.1 L164.4,124.6 L165.0,124.8 L165.6,124.2 L166.2,124.8 L166.8,124.6 L167.4,124.3 L168.0,124.8 L168.6,124.6 L169.2,123.6 L169.8,124.5 L170.4,124.5 L171.0,125.9 L171.6,127.1 L172.2,127.1 L172.8,128.1 L173.4,128.8 L174.0,129.6 L174.6,130.5 L175.2,131.4 L175.8,131.6 L176.4,133.0 L177.0,132.9 L177.6,133.6 L178.2,133.9 L178.8,133.6 L179.4,132.6 L180.0,132.0 L180.6,131.3 L181.2,130.6 L181.8,130.2 L182.4,128.9 L183.0,128.9 L183.6,128.4 L184.2,127.9 L184.8,127.4 L185.4,127.4 L186.0,127.0 L186.6,127.3 L187.2,127.6 L187.8,128.6 L188.4,128.2 L189.0,129.9 L189.6,130.1 L190.2,130.7 L190.8,130.9 L191.4,131.1 L192.0,131.9 L192.6,132.2 L193.2,132.9 L193.8,132.7 L194.4,133.8 L195.0,133.6 L195.6,133.5 L196.2,133.4 L196.8,133.2 L197.4,132.8 L198.0,132.7 L198.6,132.6 L199.2,132.3 L199.8,131.8 L200.4,132.1 L201.0,132.1 L201.6,132.6 L202.2,133.4 L202.8,133.3 L203.4,133.3 L204.0,133.1 L204.6,133.2 L205.2,133.1 L205.8,133.7 L206.4,133.2 L207.0,133.3 L207.6,133.0 L208.2,133.2 L208.8,133.9 L209.4,133.9 L210.0,134.6 L210.6,135.1 L211.2,135.9 L211.8,135.4 L212.4,135.2 L213.0,134.8 L213.6,134.5 L214.2,134.6 L214.8,134.9 L215.4,133.7 L216.0,134.2 L216.6,134.0 L217.2,133.7 L217.8,134.1 L218.4,134.4 L219.0,134.6" stroke="#109a10"/>
<path d="M30.0,100.0 L30.6,98.8 L31.2,99.4 L31.8,99.2 L32.4,98.8 L33.0,98.9 L33.6,99.0 L34.2,98.7 L34.8,98.6 L35.4,98.6 L36.0,97.7 L36.6,98.6 L37.2,98.7 L37.8,98.2 L38.4,98.1 L39.0,97.3 L39.6,97.5 L40.2,97.2 L40.8,97.2 L41.4,97.5 L42.0,96.9 L42.6,97.0 L43.2,96.4 L43.8,96.7 L44.4,96.7 L45.0,96.4 L45.6,96.2 L46.2,96.9 L46.8,95.9 L47.4,95.8 L48.0,95.8 L48.6,96.2 L49.2,96.4 L49.8,95.8 L50.4,95.4 L51.0,95.4 L51.6,95.7 L52.2,95.1 L52.8,95.7 L53.4,95.6 L54.0,95.1 L54.6,95.2 L55.2,95.2 L55.8,95.4 L56.4,94.6 L57.0,95.1 L57.6,94.6 L58.2,94.5 L58.8,94.7 L59.4,94.5 L60.0,94.3 L60.6,94.0 L61.2,94.2 L61.8,94.8 L62.4,94.9 L63.0,94.5 L63.6,94.6 L64.2,94.1 L64.8,94.1 L65.4,94.2 L66.0,93.8 L66.6,93.8 L67.2,94.1 L67.8,93.9 L68.4,93.7 L69.0,94.1 L69.6,93.9 L70.2,94.3 L70.8,94.0 L71.4,94.0 L72.0,94.1 L72.6,94.1 L73.2,94.1 L73.8,94.2 L74.4,94.7 L75.0,94.8 L75.6,95.1 L76.2,94.4 L76.8,95.0 L77.4,95.2 L78.0,95.5 L78.6,95.8 L79.2,96.4 L79.8,97.6 L80.4,98.4 L81.0,99.1 L81.6,101.0 L82.2,102.3 L82.8,103.5 L83.4,105.6 L84.0,106.8 L84.6,109.0 L85.2,110.3 L85.8,111.9 L86.4,113.7 L87.0,115.2 L87.6,116.8 L88.2,118.1 L88.8,119.4 L89.4,120.4 L90.0,120.5 L90.6,122.1 L91.2,122.0 L91.8,122.9 L92.4,123.3 L93.0,122.9 L93.6,122.1 L94.2,121.0 L94.8,119.8 L95.4,118.4 L96.0,117.2 L96.6,115.6 L97.2,114.6 L97.8,112.7 L98.4,111.5 L99.0,109.9 L99.6,109.0 L100.2,107.9 L100.8,107.2 L101.4,106.4 L102.0,105.6 L102.6,104.7 L103.2,104.2 L103.8,104.5 L104.4,103.6 L105.0,103.2 L105.6,103.4 L106.2,103.0 L106.8,102.6 L107.4,102.0 L108.0,102.4 L108.6,101.5 L109.2,101.2 L109.8,100.5 L110.4,99.4 L111.0,98.6 L111.6,98.3 L112.2,97.7 L112.8,97.4 L113.4,96.9 L114.0,96.7 L114.6,96.9 L115.2,96.5 L115.8,97.0 L116.4,97.0 L117.0,97.4 L117.6,96.7 L118.2,96.2 L118.8,96.1 L119.4,95.3 L120.0,96.0 L120.6,96.1 L121.2,96.4 L121.8,96.3 L122.4,96.2 L123.0,96.1 L123.6,96.2 L124.2,96.4 L124.8,95.7 L125.4,95.9 L126.0,95.6 L126.6,96.5 L127.2,96.4 L127.8,96.2 L128.4,95.7 L129.0,96.0 L129.6,95.9 L130.2,96.0 L130.8,95.9 L131.4,96.1 L132.0,95.9 L132.6,96.2 L133.2,96.1 L133.8,95.9 L134.4,96.0 L135.0,95.9 L135.6,96.2 L136.2,95.9 L136.8,96.1 L137.4,95.9 L138.0,95.6 L138.6,96.4 L139.2,96.0 L139.8,96.7 L140.4,96.9 L141.0,96.7 L141.6,97.2 L142.2,97.8 L142.8,98.1 L143.4,98.5 L144.0,99.4 L144.6,99.6 L145.2,100.3 L145.8,100.6 L146.4,101.4 L147.0,101.7 L147.6,102.6 L148.2,103.6 L148.8,104.2 L149.4,104.9 L150.0,105.6 L150.6,106.9 L151.2,108.1 L151.8,109.1 L152.4,110.1 L153.0,111.5 L153.6,112.8 L154.2,112.7 L154.8,113.5 L155.4,114.2 L156.0,113.9 L156.6,115.1 L157.2,115.2 L157.8,115.9 L158.4,115.3 L159.0,114.9 L159.6,114.6 L160.2,114.2 L160.8,113.4 L161.4,112.9 L162.0,111.9 L162.6,111.7 L163.2,111.4 L163.8,111.1 L164.4,110.1 L165.0,109.3 L165.6,108.9 L166.2,108.2 L166.8,107.9 L167.4,107.2 L168.0,106.5 L168.6,106.2 L169.2,105.8 L169.8,105.4 L170.4,105.1 L171.0,104.6 L171.6,104.0 L172.2,104.4 L172.8,104.1 L173.4,104.9 L174.0,105.2 L174.6,105.1 L175.2,106.1 L175.8,106.6 L176.4,106.8 L177.0,107.8 L177.6,108.6 L178.2,108.6 L178.8,110.2 L179.4,111.0 L180.0,111.9 L180.6,112.9 L181.2,113.2 L181.8,114.1 L182.4,115.0 L183.0,115.9 L183.6,116.8 L184.2,117.0 L184.8,117.5 L185.4,117.9 L186.0,117.6 L186.6,117.5 L187.2,116.6 L187.8,116.6 L188.4,116.1 L189.0,115.5 L189.6,114.4 L190.2,113.7 L190.8,112.4 L191.4,111.4 L192.0,110.5 L192.6,110.0 L193.2,109.0 L193.8,108.8 L194.4,108.1 L195.0,107.7 L195.6,107.6 L196.2,108.0 L196.8,108.5 L197.4,108.9 L198.0,109.3 L198.6,109.9 L199.2,110.3 L199.8,111.3 L200.4,111.7 L201.0,111.9 L201.6,113.5 L202.2,113.9 L202.8,114.1 L203.4,114.9 L204.0,115.2 L204.6,116.6 L205.2,116.6 L205.8,116.5 L206.4,117.3 L207.0,117.2 L207.6,117.7 L208.2,116.6 L208.8,115.8 L209.4,115.8 L210.0,115.1 L210.6,114.5 L211.2,113.4 L211.8,113.7 L212.4,113.6 L213.0,112.2 L213.6,112.6 L214.2,111.7 L214.8,112.2 L215.4,111.4 L216.0,111.0 L216.6,111.3 L217.2,111.0 L217.8,110.6 L218.4,110.9 L219.0,110.5" stroke="#30ee30"/>
<path d="M30.0,82.5 L30.6,82.9 L31.2,81.6 L31.8,80.9 L32.4,80.7 L33.0,79.7 L33.6,79.5 L34.2,79.5 L34.8,79.4 L35.4,79.4 L36.0,79.5 L36.6,78.9 L37.2,79.1 L37.8,79.0 L38.4,78.5 L39.0,78.9 L39.6,78.6 L40.2,79.2 L40.8,79.1 L41.4,79.1 L42.0,78.9 L42.6,79.4 L43.2,79.3 L43.8,79.8 L44.4,79.6 L45.0,79.3 L45.6,79.7 L46.2,79.5 L46.8,79.0 L47.4,79.2 L48.0,78.6 L48.6,78.4 L49.2,78.2 L49.8,77.8 L50.4,77.6 L51.0,77.5 L51.6,77.9 L52.2,77.8 L52.8,77.2 L53.4,77.6 L54.0,77.0 L54.6,77.1 L55.2,77.1 L55.8,76.9 L56.4,77.4 L57.0,76.7 L57.6,76.2 L58.2,76.8 L58.8,76.2 L59.4,76.2 L60.0,75.3 L60.6,76.3 L61.2,76.0 L61.8,75.8 L62.4,75.7 L63.0,75.7 L63.6,75.0 L64.2,75.1 L64.8,74.5 L65.4,74.6 L66.0,75.0 L66.6,74.9 L67.2,74.5 L67.8,75.1 L68.4,75.0 L69.0,75.0 L69.6,75.5 L70.2,75.4 L70.8,75.3 L71.4,75.5 L72.0,76.5 L72.6,75.7 L73.2,76.3 L73.8,76.5 L74.4,76.6 L75.0,76.1 L75.6,76.5 L76.2,76.7 L76.8,76.9 L77.4,76.6 L78.0,76.6 L78.6,77.3 L79.2,77.4 L79.8,77.4 L80.4,77.3 L81.0,77.7 L81.6,77.9 L82.2,78.6 L82.8,78.8 L83.4,80.0 L84.0,80.9 L84.6,81.6 L85.2,83.1 L85.8,84.5 L86.4,86.1 L87.0,88.1 L87.6,89.4 L88.2,91.6 L88.8,93.5 L89.4,95.4 L90.0,97.4 L90.6,98.4 L91.2,100.0 L91.8,102.0 L92.4,103.0 L93.0,104.0 L93.6,103.9 L94.2,103.5 L94.8,103.5 L95.4,102.1 L96.0,101.1 L96.6,101.4 L97.2,99.9 L97.8,99.0 L98.4,98.0 L99.0,97.3 L99.6,95.8 L100.2,95.0 L100.8,93.0 L101.4,91.5 L102.0,90.8 L102.6,89.3 L103.2,87.6 L103.8,86.1 L104.4,85.0 L105.0,83.8 L105.6,83.7 L106.2,82.7 L106.8,82.0 L107.4,81.3 L108.0,81.0 L108.6,80.4 L109.2,80.1 L109.8,79.3 L110.4,79.7 L111.0,80.0 L111.6,79.1 L112.2,79.1 L112.8,79.3 L113.4,79.2 L114.0,79.0 L114.6,78.3 L115.2,78.9 L115.8,78.3 L116.4,78.4 L117.0,78.7 L117.6,78.4 L118.2,78.7 L118.8,79.3 L119.4,78.5 L120.0,78.5 L120.6,78.0 L121.2,78.0 L121.8,77.8 L122.4,77.9 L123.0,77.8 L123.6,77.8 L124.2,77.9 L124.8,77.7 L125.4,77.5 L126.0,77.5 L126.6,78.0 L127.2,77.8 L127.8,78.1 L128.4,78.0 L129.0,77.6 L129.6,77.8 L130.2,77.2 L130.8,78.1 L131.4,77.7 L132.0,77.2 L132.6,76.8 L133.2,77.2 L133.8,76.5 L134.4,76.8 L135.0,77.3 L135.6,77.2 L136.2,77.3 L136.8,77.9 L137.4,77.6 L138.0,78.3 L138.6,78.4 L139.2,78.7 L139.8,79.4 L140.4,79.4 L141.0,80.6 L141.6,80.3 L142.2,81.4 L142.8,80.9 L143.4,81.7 L144.0,81.7 L144.6,82.1 L145.2,83.0 L145.8,83.6 L146.4,83.6 L147.0,84.8 L147.6,84.8 L148.2,85.6 L148.8,86.3 L149.4,86.9 L150.0,86.9 L150.6,88.6 L151.2,89.1 L151.8,89.7 L152.4,90.4 L153.0,91.1 L153.6,92.0 L154.2,93.2 L154.8,93.4 L155.4,93.7 L156.0,94.4 L156.6,95.3 L157.2,95.1 L157.8,95.1 L158.4,95.6 L159.0,95.2 L159.6,94.7 L160.2,94.1 L160.8,93.4 L161.4,93.0 L162.0,92.8 L162.6,92.4 L163.2,92.1 L163.8,91.6 L164.4,91.0 L165.0,90.4 L165.6,89.5 L166.2,88.7 L166.8,88.7 L167.4,88.2 L168.0,87.9 L168.6,87.6 L169.2,87.0 L169.8,86.7 L170.4,86.7 L171.0,86.4 L171.6,86.0 L172.2,86.1 L172.8,85.7 L173.4,85.4 L174.0,85.7 L174.6,86.4 L175.2,85.9 L175.8,86.8 L176.4,87.2 L177.0,87.7 L177.6,87.5 L178.2,89.0 L178.8,89.3 L179.4,90.2 L180.0,91.1 L180.6,92.4 L181.2,93.1 L181.8,93.8 L182.4,95.0 L183.0,95.3 L183.6,96.1 L184.2,97.3 L184.8,97.9 L185.4,98.5 L186.0,98.0 L186.6,98.5 L187.2,98.2 L187.8,98.4 L188.4,97.3 L189.0,97.4 L189.6,97.0 L190.2,96.2 L190.8,96.0 L191.4,96.0 L192.0,95.0 L192.6,94.4 L193.2,94.3 L193.8,93.9 L194.4,93.6 L195.0,92.7 L195.6,92.5 L196.2,92.4 L196.8,91.7 L197.4,91.6 L198.0,92.1 L198.6,92.7 L199.2,92.4 L199.8,92.6 L200.4,93.5 L201.0,94.2 L201.6,95.0 L202.2,95.9 L202.8,96.4 L203.4,96.9 L204.0,97.7 L204.6,97.9 L205.2,98.4 L205.8,98.4 L206.4,99.4 L207.0,99.0 L207.6,98.6 L208.2,98.5 L208.8,98.5 L209.4,97.7 L210.0,97.4 L210.6,96.8 L211.2,96.6 L211.8,95.7 L212.4,95.1 L213.0,94.5 L213.6,94.1 L214.2,94.0 L214.8,93.5 L215.4,93.6 L216.0,92.8 L216.6,93.0 L217.2,92.5 L217.8,92.2 L218.4,91.5 L219.0,91.5" stroke="#6d6f16"/>
<path d="M29.8,64.4 L30.4,64.4 L31.0,63.9 L31.6,63.8 L32.2,63.3 L32.8,63.2 L33.4,62.9 L34.0,63.1 L34.6,62.8 L35.2,62.4 L35.8,62.2 L36.4,62.3 L37.0,62.0 L37.6,61.4 L38.2,61.9 L38.8,61.3 L39.4,61.0 L40.0,61.2 L40.6,60.8 L41.2,60.3 L41.8,60.3 L42.4,59.7 L43.0,59.7 L43.6,59.1 L44.2,60.0 L44.8,59.0 L45.4,59.7 L46.0,59.2 L46.6,59.1 L47.2,59.3 L47.8,59.3 L48.4,59.4 L49.0,59.7 L49.6,59.3 L50.2,59.4 L50.8,58.9 L51.4,59.2 L52.0,59.0 L52.6,58.8 L53.2,58.9 L53.8,58.8 L54.4,58.8 L55.0,58.8 L55.6,58.5 L56.2,58.3 L56.8,58.6 L57.4,57.9 L58.0,58.1 L58.6,58.6 L59.2,57.3 L59.8,57.8 L60.4,58.1 L61.0,57.4 L61.6,58.5 L62.2,57.0 L62.8,58.1 L63.4,58.1 L64.0,58.0 L64.6,57.7 L65.2,57.9 L65.8,57.6 L66.4,58.2 L67.0,57.8 L67.6,58.1 L68.2,58.6 L68.8,58.1 L69.4,58.5 L70.0,58.7 L70.6,58.4 L71.2,59.2 L71.8,59.0 L72.4,58.5 L73.0,58.9 L73.6,58.7 L74.2,58.7 L74.8,58.9 L75.4,58.7 L76.0,59.2 L76.6,58.7 L77.2,59.2 L77.8,58.9 L78.4,59.1 L79.0,58.7 L79.6,58.8 L80.2,58.6 L80.8,59.1 L81.4,59.2 L82.0,59.9 L82.6,60.4 L83.2,61.0 L83.8,61.7 L84.4,62.9 L85.0,63.9 L85.6,65.6 L86.2,66.9 L86.8,67.7 L87.4,69.1 L88.0,71.2 L88.6,72.4 L89.2,73.8 L89.8,75.6 L90.4,76.5 L91.0,77.9 L91.6,79.0 L92.2,79.4 L92.8,80.7 L93.4,80.6 L94.0,80.8 L94.6,80.5 L95.2,80.5 L95.8,79.6 L96.4,79.0 L97.0,77.8 L97.6,77.6 L98.2,76.4 L98.8,76.0 L99.4,75.1 L100.0,74.1 L100.6,73.7 L101.2,72.3 L101.8,71.3 L102.4,70.1 L103.0,69.0 L103.6,68.4 L104.2,67.8 L104.8,66.6 L105.4,66.8 L106.0,66.2 L106.6,65.9 L107.2,65.5 L107.8,64.7 L108.4,64.5 L109.0,65.0 L109.6,64.4 L110.2,63.7 L110.8,64.0 L111.4,63.6 L112.0,62.9 L112.6,62.6 L113.2,62.5 L113.8,62.8 L114.4,62.4 L115.0,62.1 L115.6,61.9 L116.2,61.7 L116.8,60.7 L117.4,60.9 L118.0,60.5 L118.6,60.2 L119.2,60.1 L119.8,60.1 L120.4,59.8 L121.0,59.4 L121.6,59.5 L122.2,60.1 L122.8,59.2 L123.4,58.9 L124.0,59.4 L124.6,59.4 L125.2,59.3 L125.8,58.8 L126.4,59.3 L127.0,58.7 L127.6,58.6 L128.2,58.7 L128.8,58.8 L129.4,59.0 L130.0,59.0 L130.6,58.8 L131.2,59.1 L131.8,59.0 L132.4,59.3 L133.0,58.8 L133.6,58.9 L134.2,59.8 L134.8,59.3 L135.4,59.9 L136.0,60.1 L136.6,60.2 L137.2,60.5 L137.8,61.2 L138.4,60.4 L139.0,61.7 L139.6,62.5 L140.2,62.3 L140.8,62.7 L141.4,63.4 L142.0,64.2 L142.6,63.9 L143.2,64.8 L143.8,65.4 L144.4,66.3 L145.0,67.0 L145.6,67.9 L146.2,68.4 L146.8,69.3 L147.4,69.8 L148.0,70.4 L148.6,71.2 L149.2,71.8 L149.8,72.0 L150.4,73.3 L151.0,73.4 L151.6,73.7 L152.2,74.9 L152.8,75.0 L153.4,75.8 L154.0,76.1 L154.6,76.6 L155.2,77.0 L155.8,77.1 L156.4,77.7 L157.0,78.6 L157.6,77.6 L158.2,78.5 L158.8,78.6 L159.4,78.1 L160.0,77.8 L160.6,78.4 L161.2,77.2 L161.8,77.3 L162.4,76.3 L163.0,75.7 L163.6,75.3 L164.2,74.7 L164.8,74.3 L165.4,73.4 L166.0,72.6 L166.6,72.0 L167.2,71.8 L167.8,71.2 L168.4,70.2 L169.0,69.8 L169.6,69.6 L170.2,69.0 L170.8,68.7 L171.4,68.3 L172.0,68.4 L172.6,68.7 L173.2,68.9 L173.8,68.8 L174.4,69.6 L175.0,69.2 L175.6,70.3 L176.2,70.1 L176.8,70.5 L177.4,70.9 L178.0,71.0 L178.6,72.4 L179.2,73.2 L179.8,74.4 L180.4,74.2 L181.0,75.9 L181.6,76.1 L182.2,77.0 L182.8,76.7 L183.4,77.8 L184.0,78.0 L184.6,78.6 L185.2,78.7 L185.8,78.6 L186.4,79.3 L187.0,79.3 L187.6,79.1 L188.2,78.8 L188.8,78.3 L189.4,77.4 L190.0,76.4 L190.6,75.7 L191.2,76.0 L191.8,75.3 L192.4,74.6 L193.0,73.9 L193.6,73.5 L194.2,73.0 L194.8,72.5 L195.4,72.2 L196.0,73.0 L196.6,72.5 L197.2,72.3 L197.8,72.2 L198.4,72.5 L199.0,73.1 L199.6,73.2 L200.2,73.2 L200.8,73.6 L201.4,74.0 L202.0,74.2 L202.6,75.3 L203.2,75.6 L203.8,76.6 L204.4,76.1 L205.0,76.7 L205.6,77.5 L206.2,77.6 L206.8,77.8 L207.4,78.3 L208.0,78.9 L208.6,79.2 L209.2,79.1 L209.8,79.3 L210.4,79.2 L211.0,78.8 L211.6,78.5 L212.2,78.2 L212.8,78.2 L213.4,78.0 L214.0,77.5 L214.6,77.3 L215.2,76.7 L215.8,76.0 L216.4,75.7 L217.0,75.7 L217.6,75.1 L218.2,74.9 L218.8,73.9 L219.4,73.5" stroke="#d7ef1f"/>
<path d="M30.0,100.4 L30.6,103.5 L31.2,105.0 L31.8,105.4 L32.4,104.8 L33.0,103.7 L33.6,103.2 L34.2,102.2 L34.8,100.4 L35.4,99.6 L36.0,97.4 L36.6,95.9 L37.2,94.2 L37.8,92.3 L38.4,90.8 L39.0,88.7 L39.6,87.0 L40.2,84.4 L40.8,81.6 L41.4,78.2 L42.0,74.7 L42.6,72.0 L43.2,68.8 L43.8,66.3 L44.4,62.6 L45.0,59.2 L45.6,55.6 L46.2,53.8 L46.8,52.5 L47.4,51.6 L48.0,51.0 L48.6,50.5 L49.2,49.5 L49.8,49.3 L50.4,49.4 L51.0,48.1 L51.6,47.6 L52.2,47.0 L52.8,46.3 L53.4,46.6 L54.0,45.9 L54.6,45.6 L55.2,45.7 L55.8,45.5 L56.4,44.3 L57.0,44.5 L57.6,44.1 L58.2,43.8 L58.8,43.6 L59.4,43.2 L60.0,43.4 L60.6,43.0 L61.2,42.7 L61.8,42.7 L62.4,42.4 L63.0,42.1 L63.6,41.9 L64.2,42.1 L64.8,41.6 L65.4,41.3 L66.0,41.0 L66.6,41.0 L67.2,40.7 L67.8,41.0 L68.4,41.0 L69.0,40.3 L69.6,40.8 L70.2,40.9 L70.8,40.7 L71.4,40.4 L72.0,40.9 L72.6,40.4 L73.2,40.2 L73.8,40.2 L74.4,40.4 L75.0,40.7 L75.6,40.7 L76.2,40.4 L76.8,40.0 L77.4,40.1 L78.0,39.9 L78.6,40.1 L79.2,39.6 L79.8,40.1 L80.4,40.1 L81.0,39.8 L81.6,39.9 L82.2,39.4 L82.8,39.1 L83.4,39.2 L84.0,39.5 L84.6,39.3 L85.2,38.7 L85.8,39.0 L86.4,38.4 L87.0,38.8 L87.6,38.4 L88.2,37.9 L88.8,38.2 L89.4,37.6 L90.0,37.5 L90.6,37.2 L91.2,37.6 L91.8,37.5 L92.4,37.5 L93.0,37.4 L93.6,38.1 L94.2,37.9 L94.8,38.2 L95.4,39.2 L96.0,39.7 L96.6,39.8 L97.2,39.6 L97.8,40.4 L98.4,41.1 L99.0,41.4 L99.6,42.3 L100.2,42.1 L100.8,43.4 L101.4,43.9 L102.0,45.6 L102.6,46.6 L103.2,48.5 L103.8,50.1 L104.4,52.7 L105.0,55.8 L105.6,58.7 L106.2,61.3 L106.8,64.5 L107.4,66.8 L108.0,68.1 L108.6,69.1 L109.2,70.5 L109.8,71.1 L110.4,72.3 L111.0,72.4 L111.6,72.3 L112.2,71.4 L112.8,70.1 L113.4,69.4 L114.0,67.7 L114.6,65.9 L115.2,63.5 L115.8,60.9 L116.4,58.4 L117.0,56.4 L117.6,53.6 L118.2,52.0 L118.8,50.8 L119.4,49.3 L120.0,48.3 L120.6,47.7 L121.2,47.2 L121.8,45.5 L122.4,45.3 L123.0,44.9 L123.6,44.5 L124.2,44.1 L124.8,43.8 L125.4,43.9 L126.0,43.2 L126.6,43.1 L127.2,42.9 L127.8,42.8 L128.4,42.5 L129.0,42.7 L129.6,42.3 L130.2,42.2 L130.8,42.1 L131.4,41.7 L132.0,41.6 L132.6,41.5 L133.2,41.7 L133.8,41.4 L134.4,41.2 L135.0,41.5 L135.6,41.5 L136.2,40.8 L136.8,41.8 L137.4,41.3 L138.0,41.3 L138.6,41.7 L139.2,41.4 L139.8,41.3 L140.4,42.2 L141.0,41.4 L141.6,41.8 L142.2,42.2 L142.8,41.8 L143.4,42.2 L144.0,42.5 L144.6,43.3 L145.2,42.5 L145.8,42.9 L146.4,43.3 L147.0,43.4 L147.6,43.2 L148.2,44.0 L148.8,44.2 L149.4,44.6 L150.0,45.2 L150.6,45.6 L151.2,45.9 L151.8,46.3 L152.4,46.5 L153.0,47.5 L153.6,48.6 L154.2,49.4 L154.8,50.6 L155.4,51.4 L156.0,53.2 L156.6,54.6 L157.2,55.2 L157.8,56.8 L158.4,57.9 L159.0,59.5 L159.6,60.3 L160.2,61.2 L160.8,61.8 L161.4,62.6 L162.0,62.9 L162.6,64.0 L163.2,64.0 L163.8,64.6 L164.4,64.5 L165.0,64.6 L165.6,64.0 L166.2,63.9 L166.8,62.8 L167.4,62.7 L168.0,61.9 L168.6,61.2 L169.2,60.1 L169.8,59.3 L170.4,57.3 L171.0,56.8 L171.6,55.4 L172.2,55.4 L172.8,53.8 L173.4,53.4 L174.0,52.5 L174.6,52.9 L175.2,51.6 L175.8,51.6 L176.4,51.3 L177.0,51.0 L177.6,51.4 L178.2,51.7 L178.8,51.4 L179.4,51.8 L180.0,51.4 L180.6,51.8 L181.2,52.4 L181.8,53.6 L182.4,55.1 L183.0,55.7 L183.6,56.5 L184.2,57.2 L184.8,58.2 L185.4,59.8 L186.0,60.0 L186.6,61.0 L187.2,61.9 L187.8,62.3 L188.4,63.3 L189.0,62.4 L189.6,63.5 L190.2,63.8 L190.8,63.4 L191.4,63.6 L192.0,63.6 L192.6,63.4 L193.2,61.8 L193.8,60.7 L194.4,60.5 L195.0,59.9 L195.6,58.4 L196.2,56.9 L196.8,56.9 L197.4,55.6 L198.0,55.4 L198.6,54.9 L199.2,54.7 L199.8,54.6 L200.4,55.0 L201.0,54.9 L201.6,53.9 L202.2,54.3 L202.8,55.2 L203.4,54.9 L204.0,55.1 L204.6,55.9 L205.2,56.3 L205.8,56.8 L206.4,57.1 L207.0,57.6 L207.6,58.1 L208.2,58.8 L208.8,59.0 L209.4,59.6 L210.0,60.0 L210.6,60.7 L211.2,60.6 L211.8,60.6 L212.4,60.9 L213.0,60.9 L213.6,61.2 L214.2,61.1 L214.8,61.5 L215.4,61.3 L216.0,60.8 L216.6,60.4 L217.2,60.4 L217.8,59.8 L218.4,59.0 L219.0,58.0" stroke="#f36f21"/>
<path d="M29.5,62.0 L30.1,60.9 L30.7,59.2 L31.3,57.6 L31.9,55.3 L32.5,54.3 L33.1,52.2 L33.7,50.8 L34.3,49.1 L34.9,47.1 L35.5,45.6 L36.1,43.6 L36.7,42.5 L37.3,40.9 L37.9,40.3 L38.5,39.0 L39.1,38.1 L39.7,36.8 L40.3,35.5 L40.9,34.8 L41.5,33.7 L42.1,33.2 L42.7,32.4 L43.3,31.3 L43.9,30.9 L44.5,30.3 L45.1,29.6 L45.7,29.3 L46.3,29.0 L46.9,27.9 L47.5,27.4 L48.1,26.5 L48.7,26.7 L49.3,26.2 L49.9,25.4 L50.5,25.9 L51.1,25.7 L51.7,25.1 L52.3,25.0 L52.9,24.6 L53.5,24.9 L54.1,24.0 L54.7,24.2 L55.3,24.6 L55.9,23.9 L56.5,23.9 L57.1,23.6 L57.7,23.1 L58.3,23.3 L58.9,23.3 L59.5,22.8 L60.1,23.0 L60.7,23.2 L61.3,23.0 L61.9,22.2 L62.5,22.2 L63.1,21.9 L63.7,22.6 L64.3,22.4 L64.9,22.3 L65.5,21.7 L66.1,21.6 L66.7,21.8 L67.3,21.7 L67.9,21.4 L68.5,21.6 L69.1,21.6 L69.7,21.4 L70.3,21.0 L70.9,20.6 L71.5,21.1 L72.1,21.2 L72.7,21.0 L73.3,20.9 L73.9,20.8 L74.5,21.2 L75.1,21.0 L75.7,21.0 L76.3,20.7 L76.9,20.8 L77.5,21.0 L78.1,20.7 L78.7,20.6 L79.3,20.9 L79.9,21.3 L80.5,21.1 L81.1,21.4 L81.7,21.0 L82.3,20.9 L82.9,20.6 L83.5,20.8 L84.1,21.4 L84.7,21.1 L85.3,21.2 L85.9,21.2 L86.5,21.0 L87.1,20.9 L87.7,21.0 L88.3,21.2 L88.9,21.1 L89.5,21.1 L90.1,21.0 L90.7,20.7 L91.3,20.8 L91.9,20.6 L92.5,21.1 L93.1,20.2 L93.7,20.7 L94.3,21.4 L94.9,20.6 L95.5,20.4 L96.1,20.6 L96.7,20.8 L97.3,20.2 L97.9,20.2 L98.5,19.9 L99.1,19.5 L99.7,20.4 L100.3,19.4 L100.9,19.3 L101.5,19.3 L102.1,19.6 L102.7,19.6 L103.3,19.8 L103.9,19.7 L104.5,19.4 L105.1,20.1 L105.7,20.2 L106.3,20.9 L106.9,21.4 L107.5,22.7 L108.1,23.8 L108.7,25.7 L109.3,27.4 L109.9,29.8 L110.5,31.8 L111.1,33.6 L111.7,35.8 L112.3,37.6 L112.9,40.0 L113.5,40.6 L114.1,42.5 L114.7,43.3 L115.3,44.4 L115.9,45.3 L116.5,45.3 L117.1,45.6 L117.7,45.2 L118.3,45.6 L118.9,44.8 L119.5,43.8 L120.1,41.7 L120.7,40.3 L121.3,39.3 L121.9,37.3 L122.5,35.8 L123.1,34.9 L123.7,33.6 L124.3,33.3 L124.9,32.4 L125.5,31.9 L126.1,31.1 L126.7,31.0 L127.3,30.3 L127.9,30.4 L128.5,30.1 L129.1,29.8 L129.7,29.4 L130.3,29.2 L130.9,28.0 L131.5,28.8 L132.1,28.3 L132.7,28.2 L133.3,27.9 L133.9,27.4 L134.5,27.4 L135.1,27.6 L135.7,27.6 L136.3,26.9 L136.9,26.7 L137.5,27.2 L138.1,26.4 L138.7,27.1 L139.3,26.4 L139.9,26.0 L140.5,26.5 L141.1,26.6 L141.7,25.6 L142.3,26.3 L142.9,25.7 L143.5,26.1 L144.1,25.5 L144.7,25.1 L145.3,25.6 L145.9,25.6 L146.5,25.9 L147.1,25.7 L147.7,25.4 L148.3,25.1 L148.9,25.1 L149.5,25.1 L150.1,25.0 L150.7,25.1 L151.3,24.5 L151.9,25.3 L152.5,25.3 L153.1,26.1 L153.7,25.6 L154.3,25.3 L154.9,25.6 L155.5,25.3 L156.1,25.7 L156.7,25.7 L157.3,27.0 L157.9,27.0 L158.5,26.9 L159.1,27.5 L159.7,28.1 L160.3,28.4 L160.9,28.8 L161.5,28.9 L162.1,29.5 L162.7,30.4 L163.3,31.5 L163.9,32.1 L164.5,33.2 L165.1,35.1 L165.7,35.7 L166.3,37.4 L166.9,38.2 L167.5,39.3 L168.1,40.5 L168.7,41.1 L169.3,41.9 L169.9,42.3 L170.5,43.1 L171.1,44.1 L171.7,45.0 L172.3,45.6 L172.9,46.3 L173.5,46.1 L174.1,46.0 L174.7,45.9 L175.3,45.1 L175.9,44.4 L176.5,43.5 L177.1,43.4 L177.7,42.2 L178.3,42.0 L178.9,40.7 L179.5,40.7 L180.1,39.3 L180.7,39.1 L181.3,37.7 L181.9,37.4 L182.5,37.2 L183.1,36.1 L183.7,35.7 L184.3,34.9 L184.9,33.8 L185.5,33.9 L186.1,33.5 L186.7,32.6 L187.3,32.8 L187.9,32.3 L188.5,32.1 L189.1,32.3 L189.7,32.0 L190.3,32.8 L190.9,31.9 L191.5,33.1 L192.1,34.0 L192.7,34.0 L193.3,34.9 L193.9,36.6 L194.5,37.4 L195.1,38.9 L195.7,40.3 L196.3,40.8 L196.9,41.3 L197.5,41.5 L198.1,42.9 L198.7,43.0 L199.3,43.5 L199.9,43.4 L200.5,42.8 L201.1,43.5 L201.7,43.0 L202.3,42.6 L202.9,41.7 L203.5,41.4 L204.1,40.6 L204.7,39.8 L205.3,38.8 L205.9,38.6 L206.5,38.2 L207.1,38.0 L207.7,37.5 L208.3,37.8 L208.9,37.5 L209.5,36.7 L210.1,37.6 L210.7,38.1 L211.3,38.9 L211.9,39.1 L212.5,39.7 L213.1,40.1 L213.7,40.9 L214.3,41.1 L214.9,41.5 L215.5,42.0 L216.1,42.9 L216.7,43.2 L217.3,43.4 L217.9,44.6 L218.5,44.9 L219.1,45.8" stroke="#ee1c24"/>
<path d="M37.3,46.7 L37.9,43.2 L38.5,39.4 L39.1,34.9 L39.7,28.7 L40.3,22.0 L40.9,19.8 L41.5,17.3 L42.1,16.1 L42.7,14.7 L43.3,13.7 L43.9,14.3 L44.5,13.6 L45.1,13.3 L45.7,13.0 L46.3,12.7 L46.9,12.2 L47.5,11.1 L48.1,11.3 L48.7,10.3 L49.3,9.8 L49.9,9.9 L50.5,9.2 L51.1,8.4 L51.7,7.5 L52.3,7.6 L52.9,7.3 L53.5,6.7 L54.1,5.8 L54.7,5.4 L55.3,4.7 L55.9,4.6 L56.5,4.4 L57.1,4.2 L57.7,3.7 L58.3,4.0 L58.9,4.2 L59.5,4.0 L60.1,4.2 L60.7,5.0 L61.3,4.5 L61.9,4.9 L62.5,4.6 L63.1,4.8 L63.7,4.4 L64.3,4.9 L64.9,5.3 L65.5,5.6 L66.1,5.4 L66.7,5.3 L67.3,5.2 L67.9,5.0 L68.5,5.2 L69.1,5.4 L69.7,5.0 L70.3,5.5 L70.9,5.0 L71.5,4.8 L72.1,5.1 L72.7,4.9 L73.3,5.1 L73.9,5.8 L74.5,5.5 L75.1,5.6 L75.7,5.9 L76.3,5.9 L76.9,5.5 L77.5,6.0 L78.1,5.7 L78.7,5.5 L79.3,5.4 L79.9,4.7 L80.5,4.6 L81.1,4.4 L81.7,4.3 L82.3,3.8 L82.9,3.6 L83.5,3.7 L84.1,3.7 L84.7,3.4 L85.3,3.6 L85.9,3.1 L86.5,3.2 L87.1,3.5 L87.7,3.4 L88.3,3.5 L88.9,4.2 L89.5,3.8 L90.1,3.7 L90.7,4.3 L91.3,4.8 L91.9,4.4 L92.5,4.9 L93.1,4.7 L93.7,4.9 L94.3,5.1 L94.9,5.5 L95.5,6.2 L96.1,5.6 L96.7,6.4 L97.3,5.7 L97.9,5.9 L98.5,6.2 L99.1,6.0 L99.7,5.9 L100.3,5.2 L100.9,5.8 L101.5,5.3 L102.1,6.3 L102.7,5.6 L103.3,5.8 L103.9,5.6 L104.5,6.0 L105.1,6.1 L105.7,7.0 L106.3,7.0 L106.9,7.5 L107.5,7.5 L108.1,7.8 L108.7,8.6 L109.3,8.3 L109.9,8.5 L110.5,9.5 L111.1,9.4 L111.7,10.0 L112.3,10.8 L112.9,10.7 L113.5,11.6 L114.1,11.6 L114.7,12.6 L115.3,13.0 L115.9,12.9 L116.5,13.4 L117.1,13.7 L117.7,14.4 L118.3,15.1 L118.9,14.9 L119.5,16.1 L120.1,16.0 L120.7,16.6 L121.3,16.7 L121.9,18.1 L122.5,17.6 L123.1,17.7 L123.7,17.5 L124.3,18.0 L124.9,16.7 L125.5,16.7 L126.1,16.6 L126.7,15.1 L127.3,14.5 L127.9,14.1 L128.5,13.1 L129.1,12.7 L129.7,12.3 L130.3,11.5 L130.9,11.0 L131.5,10.3 L132.1,10.2 L132.7,9.8 L133.3,9.9 L133.9,9.5 L134.5,9.0 L135.1,8.2 L135.7,9.0 L136.3,9.0 L136.9,8.6 L137.5,8.3 L138.1,8.6 L138.7,9.2 L139.3,8.7 L139.9,8.9 L140.5,9.2 L141.1,9.5 L141.7,9.2 L142.3,9.3 L142.9,9.2 L143.5,9.9 L144.1,9.8 L144.7,9.6 L145.3,9.3 L145.9,9.5 L146.5,10.0 L147.1,9.7 L147.7,10.3 L148.3,10.2 L148.9,10.3 L149.5,10.5 L150.1,10.5 L150.7,10.2 L151.3,10.5 L151.9,11.3 L152.5,10.4 L153.1,10.7 L153.7,11.2 L154.3,10.9 L154.9,10.8 L155.5,10.7 L156.1,11.2 L156.7,11.4 L157.3,11.5 L157.9,11.2 L158.5,11.5 L159.1,10.9 L159.7,11.3 L160.3,11.1 L160.9,11.4 L161.5,11.6 L162.1,12.0 L162.7,12.1 L163.3,13.6 L163.9,14.1 L164.5,15.1 L165.1,16.4 L165.7,17.0 L166.3,18.4 L166.9,19.5 L167.5,20.5 L168.1,21.7 L168.7,22.5 L169.3,23.5 L169.9,23.9 L170.5,24.9 L171.1,25.2 L171.7,25.8 L172.3,26.3 L172.9,26.4 L173.5,25.8 L174.1,25.4 L174.7,25.3 L175.3,24.9 L175.9,24.3 L176.5,23.9 L177.1,23.3 L177.7,22.3 L178.3,21.4 L178.9,20.3 L179.5,19.5 L180.1,19.0 L180.7,18.6 L181.3,18.2 L181.9,17.7 L182.5,17.3 L183.1,17.2 L183.7,16.8 L184.3,16.8 L184.9,16.9 L185.5,17.1 L186.1,17.5 L186.7,18.5 L187.3,19.0 L187.9,19.5 L188.5,20.1 L189.1,21.7 L189.7,21.6 L190.3,22.5 L190.9,23.4 L191.5,23.6 L192.1,24.6 L192.7,25.8 L193.3,26.1 L193.9,26.6 L194.5,26.8 L195.1,26.7 L195.7,27.0 L196.3,26.7 L196.9,26.6 L197.5,26.7 L198.1,26.8 L198.7,26.1 L199.3,25.6 L199.9,24.1 L200.5,24.4 L201.1,24.3 L201.7,23.6 L202.3,22.8 L202.9,22.4 L203.5,22.6 L204.1,22.3 L204.7,23.1 L205.3,23.1 L205.9,24.0 L206.5,24.6 L207.1,24.0 L207.7,25.1 L208.3,25.2 L208.9,25.4 L209.5,26.0 L210.1,26.5 L210.7,27.2 L211.3,26.7 L211.9,27.6 L212.5,28.0 L213.1,27.8 L213.7,27.8 L214.3,27.8 L214.9,27.5 L215.5,27.9 L216.1,27.8 L216.7,27.8 L217.3,28.1 L217.9,27.4 L218.5,27.0 L219.1,27.0" stroke="#7d1212"/>
</g>
<rect x="115.6" y="9.6" width="3.2" height="5.8" fill="#000" transform="rotate(6 117.2 12.5)"/>
<rect x="114.4" y="25.1" width="3.2" height="5.8" fill="#000" transform="rotate(6 116 28)"/>
<rect x="112.8" y="40.6" width="3.2" height="5.8" fill="#000" transform="rotate(6 114.4 43.5)"/>
<rect x="110.8" y="56.4" width="3.2" height="5.8" fill="#000" transform="rotate(6 112.4 59.3)"/>
<rect x="92.2" y="64.3" width="3.2" height="5.8" fill="#000" transform="rotate(6 93.8 67.2)"/>
<rect x="91.0" y="79.9" width="3.2" height="5.8" fill="#000" transform="rotate(6 92.6 82.8)"/>
<rect x="89.9" y="95.8" width="3.2" height="5.8" fill="#000" transform="rotate(6 91.5 98.75)"/>
<rect x="89.4" y="111.6" width="3.2" height="5.8" fill="#000" transform="rotate(6 91 114.5)"/>
<rect x="87.9" y="127.1" width="3.2" height="5.8" fill="#000" transform="rotate(6 89.5 130)"/>
<rect x="87.2" y="142.7" width="3.2" height="5.8" fill="#000" transform="rotate(6 88.8 145.6)"/>
<rect x="85.8" y="158.3" width="3.2" height="5.8" fill="#000" transform="rotate(6 87.4 161.2)"/>
<rect x="84.8" y="173.9" width="3.2" height="5.8" fill="#000" transform="rotate(6 86.4 176.8)"/>
<rect x="83.9" y="189.8" width="3.2" height="5.8" fill="#000" transform="rotate(6 85.5 192.7)"/>
<rect x="83.1" y="205.4" width="3.2" height="5.8" fill="#000" transform="rotate(6 84.7 208.3)"/>
<rect x="81.8" y="221.0" width="3.2" height="5.8" fill="#000" transform="rotate(6 83.4 223.9)"/>
<rect x="80.8" y="236.6" width="3.2" height="5.8" fill="#000" transform="rotate(6 82.4 239.5)"/>
<g class="sf" font-size="14.4">
<text transform="translate(224,25.8) scale(0.93,1)">M</text>
<text transform="translate(224,44.3) scale(0.93,1)">L</text>
<text transform="translate(224,62.9) scale(0.93,1)">K</text>
<text transform="translate(224,81.4) scale(0.93,1)">J</text>
<text transform="translate(224,99.9) scale(0.93,1)">I</text>
<text transform="translate(224,118.5) scale(0.93,1)">H</text>
<text transform="translate(224,137.0) scale(0.93,1)">G</text>
<text transform="translate(224,155.5) scale(0.93,1)">F</text>
<text transform="translate(32.3,149.3) scale(0.93,1)">F</text>
<text transform="translate(32.3,166.8) scale(0.93,1)">E</text>
<text transform="translate(32.3,184.3) scale(0.93,1)">D</text>
<text transform="translate(32.3,201.8) scale(0.93,1)">C</text>
<text transform="translate(32.3,219.3) scale(0.93,1)">B</text>
<text transform="translate(32.3,236.8) scale(0.93,1)">A</text>
</g>
<rect x="295.5" y="0.6" width="129.5" height="115.4" fill="#fff" stroke="#000" stroke-width="1"/>
<defs><clipPath id="stmclip"><rect x="295.5" y="0.6" width="81.5" height="80.7"/></clipPath>
<filter id="bl3" x="-50%" y="-50%" width="200%" height="200%"><feGaussianBlur stdDeviation="2.2"/></filter>
<filter id="bl2" x="-50%" y="-50%" width="200%" height="200%"><feGaussianBlur stdDeviation="1.3"/></filter>
<filter id="bl1" x="-50%" y="-50%" width="200%" height="200%"><feGaussianBlur stdDeviation="0.8"/></filter>
</defs>
<g clip-path="url(#stmclip)">
<rect x="295.5" y="0.6" width="81.5" height="80.7" fill="#d47418"/>
<ellipse cx="300" cy="22" rx="6" ry="20" fill="#f3b868" filter="url(#bl3)"/>
<ellipse cx="304" cy="33" rx="8" ry="10" fill="#f3b060" filter="url(#bl3)"/>
<ellipse cx="299" cy="46" rx="5" ry="6" fill="#f3b868" filter="url(#bl3)"/>
<ellipse cx="302" cy="6" rx="8" ry="5.5" fill="#f9dca0" filter="url(#bl3)"/>
<ellipse cx="320.5" cy="9" rx="4" ry="7" fill="#f0a850" filter="url(#bl3)"/>
<ellipse cx="362" cy="6" rx="14" ry="5.5" fill="#eda446" filter="url(#bl3)"/>
<ellipse cx="371" cy="22" rx="5" ry="14" fill="#e89038" filter="url(#bl3)"/>
<ellipse cx="330" cy="44" rx="18" ry="11" fill="#8e3e08" filter="url(#bl3)"/>
<ellipse cx="338" cy="33" rx="12" ry="6" fill="#9c460a" filter="url(#bl3)"/>
<ellipse cx="324" cy="32" rx="12" ry="4" fill="#b65810" filter="url(#bl3)"/>
<ellipse cx="341" cy="47" rx="7" ry="8" fill="#9c460a" filter="url(#bl3)"/>
<path d="M304,51 Q320,53 338,62" fill="none" stroke="#eca048" stroke-width="5" stroke-linecap="round" stroke-linejoin="round" filter="url(#bl3)"/>
<ellipse cx="305" cy="70" rx="9" ry="9" fill="#f0a850" filter="url(#bl3)"/>
<ellipse cx="325" cy="72" rx="12" ry="6" fill="#e89038" filter="url(#bl3)"/>
<ellipse cx="344" cy="66" rx="9" ry="6" fill="#eea048" filter="url(#bl3)"/>
<ellipse cx="346" cy="66" rx="6" ry="3.5" fill="#f6c880" filter="url(#bl3)"/>
<ellipse cx="362" cy="53.5" rx="11" ry="7" fill="#fae2ac" filter="url(#bl3)"/>
<ellipse cx="362" cy="73" rx="12" ry="7" fill="#f6c880" filter="url(#bl3)"/>
<ellipse cx="372" cy="66" rx="4" ry="11" fill="#f0a850" filter="url(#bl3)"/>
<ellipse cx="364" cy="39.5" rx="10" ry="3.2" fill="#cc6a1c" filter="url(#bl3)"/>
<ellipse cx="360" cy="64.5" rx="8.5" ry="3.4" fill="#fff0cc" filter="url(#bl2)"/>
<ellipse cx="361" cy="52" rx="7" ry="3.5" fill="#fff0cc" filter="url(#bl2)"/>
<ellipse cx="298.5" cy="23" rx="3" ry="5" fill="#fde8b8" filter="url(#bl2)"/>
<ellipse cx="301" cy="5" rx="4" ry="3" fill="#fff4d8" filter="url(#bl1)"/>
<ellipse cx="309.5" cy="2" rx="2.2" ry="1.5" fill="#6a2204" filter="url(#bl1)"/>
<path d="M309,1 L314,17" fill="none" stroke="#aa5614" stroke-width="3.5" stroke-linecap="round" stroke-linejoin="round" filter="url(#bl2)"/>
<ellipse cx="314.5" cy="18.5" rx="3.5" ry="4.5" fill="#a85010" filter="url(#bl2)"/>
<path d="M312,27.8 L322,26.6 L330,25.5 L336.5,22.7" fill="none" stroke="#561802" stroke-width="1.9" stroke-linecap="round" stroke-linejoin="round" filter="url(#bl1)"/>
<ellipse cx="310" cy="34" rx="2.5" ry="3.5" fill="#a04c10" filter="url(#bl2)"/>
<path d="M346,5 Q340,9 342,14 Q345,19 351,23 T357,28" fill="none" stroke="#4e1702" stroke-width="3.4" stroke-linecap="round" stroke-linejoin="round" filter="url(#bl2)"/>
<ellipse cx="341.5" cy="11.5" rx="3" ry="4.5" fill="#4a1602" filter="url(#bl2)"/>
<ellipse cx="363" cy="23.7" rx="6.5" ry="2.2" fill="#fbe0a0" filter="url(#bl2)"/>
<ellipse cx="363.4" cy="32" rx="4" ry="2.9" fill="#fff8e0" filter="url(#bl1)"/>
<ellipse cx="327" cy="46" rx="3" ry="1.5" fill="#8a3a08" filter="url(#bl1)"/>
<ellipse cx="326" cy="59.5" rx="5" ry="1.6" fill="#5a1a02" filter="url(#bl1)"/>
<ellipse cx="344.5" cy="54" rx="3" ry="2.2" fill="#5a1a02" filter="url(#bl2)"/>
<ellipse cx="303.3" cy="70.8" rx="2.6" ry="2.6" fill="#fff4d8" filter="url(#bl1)"/>
<path d="M296,80.6 L377,80.6" fill="none" stroke="#7a2b06" stroke-width="1.6" stroke-linecap="round" stroke-linejoin="round" filter="url(#bl1)"/>
<ellipse cx="321.5" cy="80" rx="3" ry="1.5" fill="#4a1602" filter="url(#bl1)"/>
<ellipse cx="338.5" cy="76.3" rx="4.5" ry="2.3" fill="#6a2204" filter="url(#bl2)"/>
<ellipse cx="376.8" cy="60" rx="1.4" ry="21" fill="#7a2b06" filter="url(#bl1)"/>
<ellipse cx="374" cy="79" rx="4" ry="3" fill="#6a2204" filter="url(#bl2)"/>
</g>
<text x="330.5" y="17.5" font-size="12.5" text-anchor="middle" fill="#000">E</text>
<text x="353" y="25.0" font-size="12.5" text-anchor="middle" fill="#fff">N</text>
<text x="372.5" y="16.0" font-size="12.5" text-anchor="middle" fill="#000">G</text>
<text x="302.5" y="35.5" font-size="12.5" text-anchor="middle" fill="#000">D</text>
<text x="337" y="38.5" font-size="12.5" text-anchor="middle" fill="#000">B</text>
<text x="299.5" y="54.5" font-size="12.5" text-anchor="middle" fill="#000">A</text>
<text x="320.5" y="51.5" font-size="12.5" text-anchor="middle" fill="#000">F</text>
<text x="328" y="58.5" font-size="12.5" text-anchor="middle" fill="#fff">K</text>
<text x="348.5" y="55.5" font-size="12.5" text-anchor="middle" fill="#fff">M</text>
<text x="299.5" y="65.5" font-size="12.5" text-anchor="middle" fill="#000">L</text>
<text x="308.5" y="63.0" font-size="12.5" text-anchor="middle" fill="#000">C</text>
<text x="332.5" y="69.0" font-size="12.5" text-anchor="middle" fill="#000">I</text>
<text x="311.5" y="80.5" font-size="12.5" text-anchor="middle" fill="#000">H</text>
<text x="359.5" y="76.5" font-size="12.5" text-anchor="middle" fill="#000">J</text>
<line x1="291" x2="295.5" y1="116.0" y2="116.0" stroke="#000" stroke-width="1"/>
<text x="287.6" y="120.3" font-size="11" text-anchor="end">3.0</text>
<line x1="291" x2="295.5" y1="85.4" y2="85.4" stroke="#000" stroke-width="1"/>
<text x="287.6" y="89.7" font-size="11" text-anchor="end">3.5</text>
<line x1="291" x2="295.5" y1="54.8" y2="54.8" stroke="#000" stroke-width="1"/>
<text x="287.6" y="59.1" font-size="11" text-anchor="end">4.0</text>
<line x1="293" x2="295.5" y1="100.7" y2="100.7" stroke="#000" stroke-width="1"/>
<line x1="293" x2="295.5" y1="70.1" y2="70.1" stroke="#000" stroke-width="1"/>
<line x1="293" x2="295.5" y1="39.5" y2="39.5" stroke="#000" stroke-width="1"/>
<line x1="293" x2="295.5" y1="24.2" y2="24.2" stroke="#000" stroke-width="1"/>
<line x1="293" x2="295.5" y1="8.9" y2="8.9" stroke="#000" stroke-width="1"/>
<line x1="300.0" x2="300.0" y1="116" y2="119.5" stroke="#000" stroke-width="1"/>
<text x="301.2" y="132.5" font-size="11.2" text-anchor="middle">A</text>
<line x1="318.3" x2="318.3" y1="116" y2="119.5" stroke="#000" stroke-width="1"/>
<text x="319.5" y="132.5" font-size="11.2" text-anchor="middle">C</text>
<line x1="336.7" x2="336.7" y1="116" y2="119.5" stroke="#000" stroke-width="1"/>
<text x="337.9" y="132.5" font-size="11.2" text-anchor="middle">E</text>
<line x1="355.0" x2="355.0" y1="116" y2="119.5" stroke="#000" stroke-width="1"/>
<text x="356.2" y="132.5" font-size="11.2" text-anchor="middle">G</text>
<line x1="373.4" x2="373.4" y1="116" y2="119.5" stroke="#000" stroke-width="1"/>
<text x="374.6" y="132.5" font-size="11.2" text-anchor="middle">I</text>
<line x1="391.7" x2="391.7" y1="116" y2="119.5" stroke="#000" stroke-width="1"/>
<text x="392.9" y="132.5" font-size="11.2" text-anchor="middle">K</text>
<line x1="410.0" x2="410.0" y1="116" y2="119.5" stroke="#000" stroke-width="1"/>
<text x="411.2" y="132.5" font-size="11.2" text-anchor="middle">M</text>
<circle cx="300.0" cy="104.6" r="3.6" fill="#000"/>
<circle cx="309.2" cy="103.9" r="3.6" fill="#000"/>
<circle cx="318.3" cy="103.2" r="3.6" fill="#000"/>
<circle cx="327.5" cy="98.4" r="3.6" fill="#000"/>
<circle cx="336.7" cy="96.5" r="3.6" fill="#000"/>
<circle cx="345.9" cy="95.2" r="3.6" fill="#000"/>
<circle cx="355.0" cy="93.5" r="3.6" fill="#000"/>
<circle cx="364.2" cy="89.4" r="3.6" fill="#000"/>
<circle cx="373.4" cy="86.1" r="3.6" fill="#000"/>
<circle cx="382.5" cy="84.8" r="3.6" fill="#000"/>
<path d="M391.3,57.6 L395.0,64.60000000000001 L387.6,64.60000000000001 Z" fill="#2f8f8a" stroke="#1a1aee" stroke-width="1.8" stroke-linejoin="miter"/>
<path d="M400.2,50.199999999999996 L403.9,57.199999999999996 L396.5,57.199999999999996 Z" fill="#2f8f8a" stroke="#1a1aee" stroke-width="1.8" stroke-linejoin="miter"/>
<path d="M409.6,42.5 L413.3,49.5 L405.90000000000003,49.5 Z" fill="#2f8f8a" stroke="#1a1aee" stroke-width="1.8" stroke-linejoin="miter"/>
<path d="M418.5,51.1 L422.2,58.1 L414.8,58.1 Z" fill="#2f8f8a" stroke="#1a1aee" stroke-width="1.8" stroke-linejoin="miter"/>
<text x="357" y="153" font-size="13.2" text-anchor="middle">spectral position</text>
<text transform="translate(265.3,110) rotate(-90)" font-size="13">1<tspan font-size="10" dy="-5">st</tspan><tspan dy="5">FER / V</tspan></text>
<text transform="translate(258.3,16.5) scale(1.05,1)" class="sf" font-size="15.5">(b)</text>
<rect x="277.5" y="168.5" width="32" height="22.5" fill="#e6e6e6"/>
<rect x="277.5" y="191" width="32" height="87.19999999999999" fill="#4c4c4c"/>
<defs><clipPath id="vac"><path d="M309.5,168.5 L360.5,224.5 L360.5,278.2 L309.5,278.2 Z"/></clipPath></defs>
<g clip-path="url(#vac)">
<rect x="309.5" y="160" width="3.8" height="120" fill="#686868"/>
<rect x="321" y="160" width="3.5" height="120" fill="#7c7c7c"/>
<rect x="332.6" y="160" width="3.5" height="120" fill="#7c7c7c"/>
<rect x="344.2" y="160" width="3.5" height="120" fill="#7c7c7c"/>
<rect x="355.8" y="160" width="3.5" height="120" fill="#7c7c7c"/>
</g>
<path d="M360.5,175.5 L390,175.5 L390,227.5 L360.5,223.5 Z" fill="#b3c0de"/>
<path d="M360.5,260.2 L390,264.8 L390,278.2 L360.5,278.2 Z" fill="#2a2aee"/>
<rect x="390" y="175.5" width="35" height="71.5" fill="#ebebeb"/>
<rect x="390" y="247" width="35" height="31.19999999999999" fill="#4c4c4c"/>
<path d="M277.7,278.2 L277.7,168.5 L309.5,168.5" fill="none" stroke="#222" stroke-width="1.4"/>
<path d="M309,168.5 L360.5,224.5" fill="none" stroke="#000" stroke-width="1.8"/>
<path d="M360.5,224 L360.5,278.2" fill="none" stroke="#000" stroke-width="1"/>
<line x1="309.5" x2="309.5" y1="168.5" y2="278.2" stroke="#000" stroke-width="0.8"/>
<path d="M360.5,175.5 L425,175.5 L425,278.2" fill="none" stroke="#000" stroke-width="0.8"/>
<line x1="390" x2="390" y1="175.5" y2="278.2" stroke="#000" stroke-width="0.8"/>
<g stroke="#000" stroke-width="2.4">
<line x1="320.5" x2="360.5" y1="180.3" y2="180.3"/>
<line x1="332" x2="360.5" y1="191.5" y2="191.5"/>
<line x1="346" x2="360.5" y1="207.2" y2="207.2"/>
</g>
<g fill="none" stroke="#ee1c24" stroke-width="2">
<path d="M319.5,180.5 C321.5,172.5 330,172.5 332.5,180 C335,187 343,187 345.5,180 C348,172.5 357,172.5 360.5,180.5"/>
<path d="M331,192 C333,198 341,198 344,192 C347,185 356.5,185 360.5,192.5"/>
<path d="M345.5,207.5 C347.5,199.5 357.5,199.5 360.5,207.5"/>
</g>
<line x1="309.5" x2="398" y1="192.5" y2="192.5" stroke="#ee1c24" stroke-width="2.3" stroke-dasharray="5.4 7"/>
<rect x="310.5" y="264" width="48" height="13" fill="#fff" opacity="0.62"/>
<text x="291.5" y="274.4" font-size="12.5" text-anchor="middle" fill="#fff">Tip</text>
<text x="334" y="274.4" font-size="12.5" text-anchor="middle" fill="#000">Vacuum</text>
<text x="374.5" y="274.4" font-size="12.5" text-anchor="middle" fill="#fff">Film</text>
<text x="408.5" y="274.6" font-size="12.8" text-anchor="middle" fill="#fff">Mo</text>
<text x="278.8" y="201.5" font-size="11.5" fill="#fff">E<tspan font-size="7" dy="2">F</tspan></text>
<text x="393.5" y="243" font-size="12" fill="#000">E<tspan font-size="7" dy="2">F</tspan><tspan dy="-2">-eV</tspan></text>
<text x="339.5" y="173" font-size="12" text-anchor="middle">FER</text>
<text transform="translate(272,227.8) rotate(-90)" font-size="12.2" text-anchor="middle">Energy</text>
<text x="354.4" y="292.5" font-size="12.55" text-anchor="middle">Potential diagram</text>
<text transform="translate(258.5,163.6) scale(1.05,1)" class="sf" font-size="15.2">(c)</text>
</svg>
</body></html>
